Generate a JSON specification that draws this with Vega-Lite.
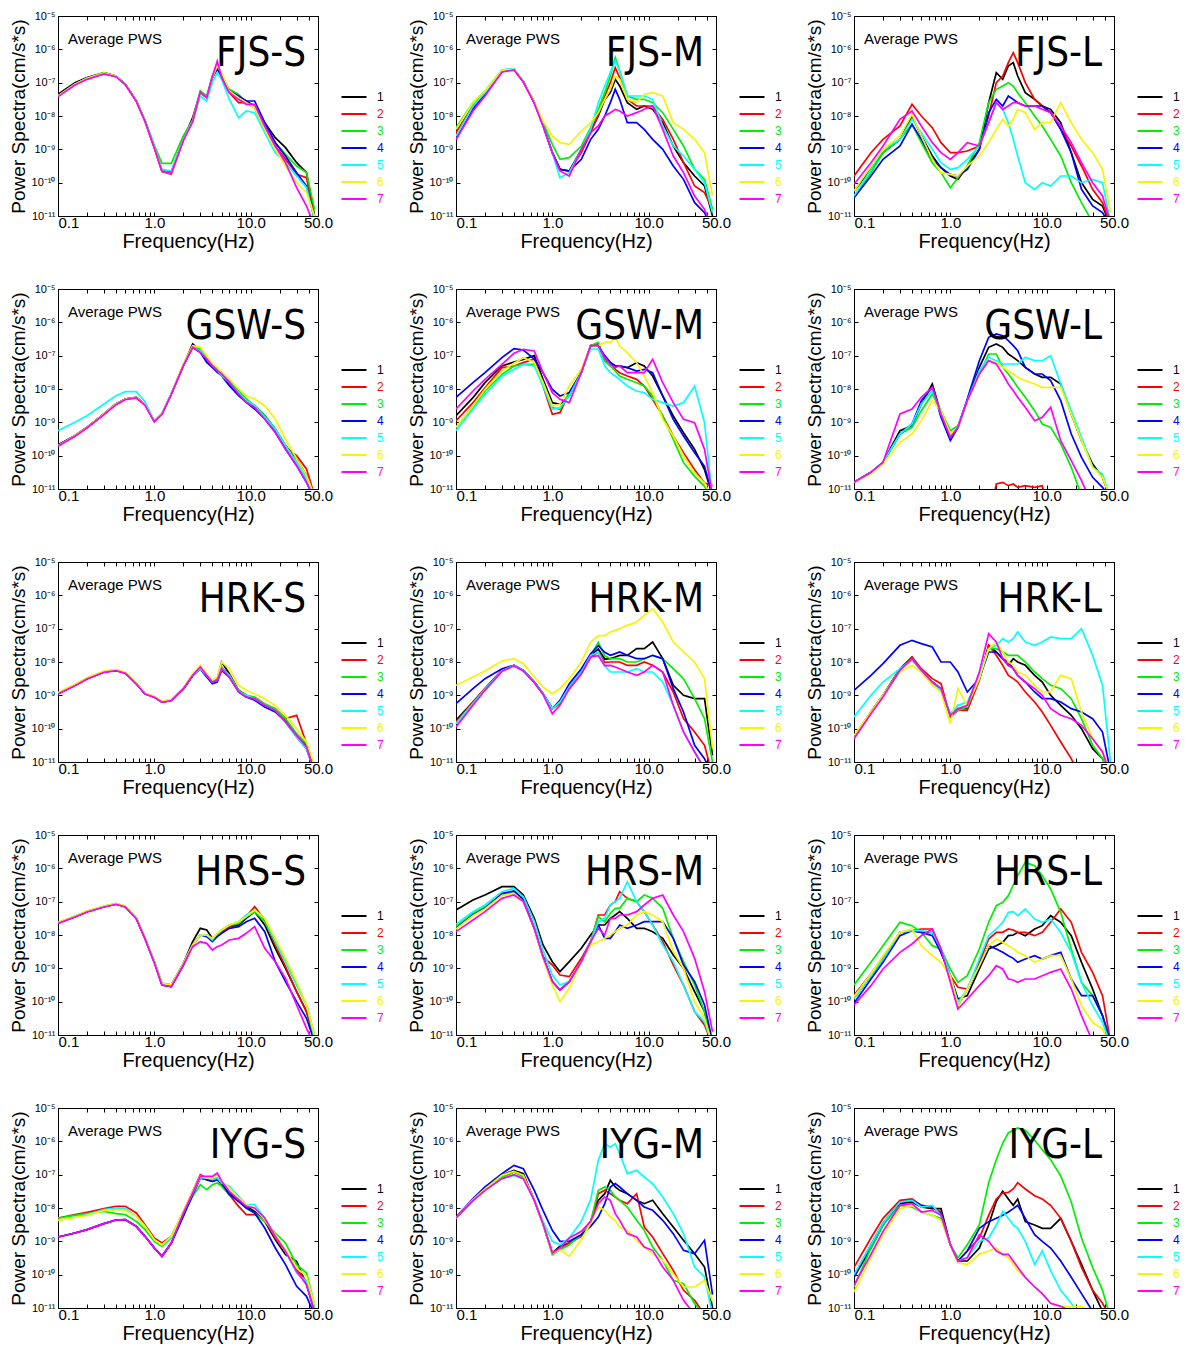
{
"$schema":"https://vega.github.io/schema/vega-lite/v6.json",
"padding":{"left":8,"top":9,"right":0,"bottom":0},
"data":{"values":[
{"p":"FJS-S","f":0.1,"1":-7.35,"2":-7.4,"3":-7.4,"4":-7.4,"5":-7.4,"6":-7.4,"7":-7.42},
{"p":"FJS-S","f":0.15,"1":-7.0,"2":-7.05,"3":-7.05,"4":-7.05,"5":-7.05,"6":-7.05,"7":-7.07},
{"p":"FJS-S","f":0.2,"1":-6.85,"2":-6.88,"3":-6.87,"4":-6.88,"5":-6.88,"6":-6.87,"7":-6.9},
{"p":"FJS-S","f":0.3,"1":-6.7,"2":-6.72,"3":-6.7,"4":-6.73,"5":-6.73,"6":-6.71,"7":-6.74},
{"p":"FJS-S","f":0.4,"1":-6.8,"2":-6.81,"3":-6.8,"4":-6.81,"5":-6.81,"6":-6.8,"7":-6.82},
{"p":"FJS-S","f":0.5,"1":-7.05,"2":-7.05,"3":-7.04,"4":-7.05,"5":-7.05,"6":-7.05,"7":-7.06},
{"p":"FJS-S","f":0.65,"1":-7.55,"2":-7.55,"3":-7.54,"4":-7.55,"5":-7.55,"6":-7.55,"7":-7.56},
{"p":"FJS-S","f":0.8,"1":-8.15,"2":-8.15,"3":-8.12,"4":-8.15,"5":-8.14,"6":-8.15,"7":-8.16},
{"p":"FJS-S","f":1,"1":-8.95,"2":-8.95,"3":-8.88,"4":-8.95,"5":-8.93,"6":-8.95,"7":-8.96},
{"p":"FJS-S","f":1.2,"1":-9.65,"2":-9.67,"3":-9.42,"4":-9.63,"5":-9.6,"6":-9.65,"7":-9.66},
{"p":"FJS-S","f":1.5,"1":-9.7,"2":-9.75,"3":-9.42,"4":-9.68,"5":-9.65,"6":-9.72,"7":-9.72},
{"p":"FJS-S","f":2,"1":-8.7,"2":-8.72,"3":-8.6,"4":-8.7,"5":-8.7,"6":-8.72,"7":-8.74},
{"p":"FJS-S","f":2.5,"1":-8.05,"2":-8.15,"3":-8.12,"4":-8.15,"5":-8.15,"6":-8.15,"7":-8.17},
{"p":"FJS-S","f":3,"1":-7.3,"2":-7.3,"3":-7.25,"4":-7.3,"5":-7.4,"6":-7.3,"7":-7.28},
{"p":"FJS-S","f":3.5,"1":-7.45,"2":-7.45,"3":-7.4,"4":-7.45,"5":-7.55,"6":-7.45,"7":-7.45},
{"p":"FJS-S","f":4,"1":-6.85,"2":-6.85,"3":-6.8,"4":-6.85,"5":-7.0,"6":-6.85,"7":-6.82},
{"p":"FJS-S","f":4.5,"1":-6.5,"2":-6.5,"3":-6.45,"4":-6.6,"5":-6.7,"6":-6.5,"7":-6.35},
{"p":"FJS-S","f":5,"1":-6.75,"2":-6.85,"3":-6.85,"4":-6.8,"5":-6.9,"6":-6.7,"7":-6.85},
{"p":"FJS-S","f":6,"1":-7.25,"2":-7.3,"3":-7.2,"4":-7.25,"5":-7.5,"6":-7.25,"7":-7.3},
{"p":"FJS-S","f":7.5,"1":-7.42,"2":-7.6,"3":-7.35,"4":-7.4,"5":-8.05,"6":-7.45,"7":-7.5},
{"p":"FJS-S","f":9,"1":-7.55,"2":-7.6,"3":-7.6,"4":-7.55,"5":-7.85,"6":-7.6,"7":-7.65},
{"p":"FJS-S","f":11,"1":-7.7,"2":-7.75,"3":-7.7,"4":-7.55,"5":-7.9,"6":-7.75,"7":-7.65},
{"p":"FJS-S","f":14,"1":-8.2,"2":-8.4,"3":-8.3,"4":-8.2,"5":-8.5,"6":-8.4,"7":-8.3},
{"p":"FJS-S","f":18,"1":-8.65,"2":-8.9,"3":-8.8,"4":-8.8,"5":-9.1,"6":-9.0,"7":-8.9},
{"p":"FJS-S","f":23,"1":-8.95,"2":-9.3,"3":-9.15,"4":-9.2,"5":-9.4,"6":-9.5,"7":-9.4},
{"p":"FJS-S","f":30,"1":-9.4,"2":-9.75,"3":-9.5,"4":-9.7,"5":-9.8,"6":-10.0,"7":-10.15},
{"p":"FJS-S","f":38,"1":-9.7,"2":-9.85,"3":-9.7,"4":-10.1,"5":-10.15,"6":-10.3,"7":-10.7},
{"p":"FJS-S","f":46,"1":-11.0,"2":-11.1,"3":-10.8,"4":-11.1,"5":-11.1,"6":-11.0,"7":-11.3},
{"p":"FJS-M","f":0.1,"1":-8.5,"2":-8.5,"3":-8.35,"4":-8.7,"5":-8.6,"6":-8.4,"7":-8.7},
{"p":"FJS-M","f":0.15,"1":-7.7,"2":-7.7,"3":-7.6,"4":-7.8,"5":-7.7,"6":-7.6,"7":-7.85},
{"p":"FJS-M","f":0.2,"1":-7.3,"2":-7.3,"3":-7.25,"4":-7.35,"5":-7.3,"6":-7.25,"7":-7.4},
{"p":"FJS-M","f":0.3,"1":-6.65,"2":-6.65,"3":-6.62,"4":-6.67,"5":-6.62,"6":-6.63,"7":-6.68},
{"p":"FJS-M","f":0.4,"1":-6.6,"2":-6.6,"3":-6.58,"4":-6.6,"5":-6.58,"6":-6.6,"7":-6.62},
{"p":"FJS-M","f":0.5,"1":-6.97,"2":-6.97,"3":-6.96,"4":-6.97,"5":-6.96,"6":-6.97,"7":-6.98},
{"p":"FJS-M","f":0.65,"1":-7.6,"2":-7.6,"3":-7.58,"4":-7.6,"5":-7.6,"6":-7.58,"7":-7.62},
{"p":"FJS-M","f":0.8,"1":-8.27,"2":-8.27,"3":-8.2,"4":-8.27,"5":-8.27,"6":-8.15,"7":-8.3},
{"p":"FJS-M","f":1,"1":-9.1,"2":-9.1,"3":-8.85,"4":-9.1,"5":-9.1,"6":-8.6,"7":-9.1},
{"p":"FJS-M","f":1.2,"1":-9.6,"2":-9.6,"3":-9.3,"4":-9.6,"5":-9.85,"6":-8.8,"7":-9.65},
{"p":"FJS-M","f":1.5,"1":-9.65,"2":-9.65,"3":-9.25,"4":-9.65,"5":-9.7,"6":-8.85,"7":-9.8},
{"p":"FJS-M","f":2,"1":-9.0,"2":-9.1,"3":-8.9,"4":-9.3,"5":-9.0,"6":-8.45,"7":-9.0},
{"p":"FJS-M","f":2.5,"1":-8.45,"2":-8.5,"3":-8.35,"4":-8.7,"5":-8.4,"6":-8.2,"7":-8.5},
{"p":"FJS-M","f":3,"1":-8.0,"2":-7.95,"3":-7.8,"4":-8.4,"5":-7.6,"6":-7.9,"7":-8.3},
{"p":"FJS-M","f":3.5,"1":-7.5,"2":-7.4,"3":-7.3,"4":-8.0,"5":-7.1,"6":-7.5,"7":-8.0},
{"p":"FJS-M","f":4,"1":-7.3,"2":-7.0,"3":-6.8,"4":-7.6,"5":-6.7,"6":-7.2,"7":-7.9},
{"p":"FJS-M","f":4.5,"1":-6.9,"2":-6.55,"3":-6.25,"4":-7.2,"5":-6.35,"6":-6.8,"7":-7.8},
{"p":"FJS-M","f":5,"1":-7.1,"2":-6.85,"3":-6.65,"4":-7.5,"5":-6.65,"6":-6.9,"7":-7.85},
{"p":"FJS-M","f":6,"1":-7.6,"2":-7.5,"3":-7.4,"4":-8.2,"5":-7.4,"6":-7.5,"7":-8.0},
{"p":"FJS-M","f":7.5,"1":-7.8,"2":-7.7,"3":-7.5,"4":-8.2,"5":-7.4,"6":-7.6,"7":-7.9},
{"p":"FJS-M","f":9,"1":-7.7,"2":-7.7,"3":-7.5,"4":-8.4,"5":-7.4,"6":-7.35,"7":-7.8},
{"p":"FJS-M","f":11,"1":-7.8,"2":-7.7,"3":-7.6,"4":-8.7,"5":-7.5,"6":-7.3,"7":-7.7},
{"p":"FJS-M","f":14,"1":-8.2,"2":-8.1,"3":-7.9,"4":-9.0,"5":-8.3,"6":-7.4,"7":-8.4},
{"p":"FJS-M","f":18,"1":-8.9,"2":-8.7,"3":-8.4,"4":-9.5,"5":-8.9,"6":-8.2,"7":-9.2},
{"p":"FJS-M","f":23,"1":-9.4,"2":-9.4,"3":-8.9,"4":-9.9,"5":-9.2,"6":-8.4,"7":-9.7},
{"p":"FJS-M","f":30,"1":-9.8,"2":-10.1,"3":-9.6,"4":-10.6,"5":-9.6,"6":-8.7,"7":-10.4},
{"p":"FJS-M","f":38,"1":-10.1,"2":-10.3,"3":-9.9,"4":-10.9,"5":-10.0,"6":-9.1,"7":-10.8},
{"p":"FJS-M","f":46,"1":-11.0,"2":-10.8,"3":-10.8,"4":-11.4,"5":-10.9,"6":-10.4,"7":-11.4},
{"p":"FJS-L","f":0.1,"1":-10.25,"2":-9.8,"3":-10.45,"4":-10.45,"5":-10.4,"6":-10.25,"7":-10.05},
{"p":"FJS-L","f":0.15,"1":-9.6,"2":-9.1,"3":-9.7,"4":-9.8,"5":-9.6,"6":-9.5,"7":-9.4},
{"p":"FJS-L","f":0.2,"1":-9.1,"2":-8.7,"3":-9.1,"4":-9.3,"5":-9.0,"6":-9.0,"7":-8.9},
{"p":"FJS-L","f":0.3,"1":-8.7,"2":-8.3,"3":-8.7,"4":-8.9,"5":-8.7,"6":-8.6,"7":-8.1},
{"p":"FJS-L","f":0.4,"1":-8.0,"2":-7.65,"3":-8.25,"4":-8.25,"5":-8.1,"6":-7.95,"7":-7.85},
{"p":"FJS-L","f":0.5,"1":-8.6,"2":-8.0,"3":-8.8,"4":-8.7,"5":-8.5,"6":-8.6,"7":-8.3},
{"p":"FJS-L","f":0.65,"1":-9.2,"2":-8.35,"3":-9.4,"4":-9.3,"5":-9.0,"6":-9.3,"7":-8.8},
{"p":"FJS-L","f":0.8,"1":-9.55,"2":-8.8,"3":-9.7,"4":-9.55,"5":-9.4,"6":-9.7,"7":-9.1},
{"p":"FJS-L","f":1,"1":-9.8,"2":-9.1,"3":-10.15,"4":-9.75,"5":-9.6,"6":-9.75,"7":-9.3},
{"p":"FJS-L","f":1.2,"1":-9.9,"2":-9.1,"3":-9.85,"4":-9.8,"5":-9.55,"6":-9.8,"7":-9.1},
{"p":"FJS-L","f":1.5,"1":-9.5,"2":-9.05,"3":-9.5,"4":-9.6,"5":-9.3,"6":-9.5,"7":-8.8},
{"p":"FJS-L","f":2,"1":-9.0,"2":-8.9,"3":-8.8,"4":-9.0,"5":-8.9,"6":-9.2,"7":-8.9},
{"p":"FJS-L","f":2.5,"1":-7.6,"2":-8.0,"3":-7.6,"4":-7.9,"5":-8.2,"6":-8.8,"7":-8.2},
{"p":"FJS-L","f":3,"1":-6.7,"2":-7.0,"3":-7.2,"4":-7.5,"5":-7.6,"6":-8.4,"7":-7.6},
{"p":"FJS-L","f":3.5,"1":-6.9,"2":-6.8,"3":-7.1,"4":-7.7,"5":-7.8,"6":-8.1,"7":-7.8},
{"p":"FJS-L","f":4,"1":-6.5,"2":-6.4,"3":-7.0,"4":-7.4,"5":-8.2,"6":-8.3,"7":-7.7},
{"p":"FJS-L","f":4.5,"1":-6.4,"2":-6.1,"3":-7.1,"4":-7.5,"5":-8.7,"6":-8.1,"7":-7.6},
{"p":"FJS-L","f":5,"1":-6.8,"2":-6.4,"3":-7.3,"4":-7.6,"5":-9.2,"6":-7.8,"7":-7.6},
{"p":"FJS-L","f":6,"1":-7.3,"2":-7.0,"3":-7.6,"4":-7.7,"5":-10.0,"6":-7.9,"7":-7.7},
{"p":"FJS-L","f":7.5,"1":-7.5,"2":-7.5,"3":-8.0,"4":-7.7,"5":-10.2,"6":-8.4,"7":-7.7},
{"p":"FJS-L","f":9,"1":-7.7,"2":-7.7,"3":-8.3,"4":-7.7,"5":-10.0,"6":-8.2,"7":-7.8},
{"p":"FJS-L","f":11,"1":-7.8,"2":-7.9,"3":-8.7,"4":-7.9,"5":-10.1,"6":-8.2,"7":-7.9},
{"p":"FJS-L","f":14,"1":-8.2,"2":-8.4,"3":-9.2,"4":-8.4,"5":-9.8,"6":-7.6,"7":-8.3},
{"p":"FJS-L","f":18,"1":-9.1,"2":-8.9,"3":-10.0,"4":-9.1,"5":-9.8,"6":-8.2,"7":-8.8},
{"p":"FJS-L","f":23,"1":-10.0,"2":-9.5,"3":-10.6,"4":-10.2,"5":-10.0,"6":-8.7,"7":-9.4},
{"p":"FJS-L","f":30,"1":-10.5,"2":-10.2,"3":-11.2,"4":-10.7,"5":-9.9,"6":-9.1,"7":-10.0},
{"p":"FJS-L","f":38,"1":-10.7,"2":-10.6,"3":-11.6,"4":-10.9,"5":-10.0,"6":-9.6,"7":-10.4},
{"p":"FJS-L","f":46,"1":-11.3,"2":-11.3,"3":-11.8,"4":-11.3,"5":-11.2,"6":-10.9,"7":-11.2},
{"p":"GSW-S","f":0.1,"1":-9.68,"2":-9.7,"3":-9.7,"4":-9.68,"5":-9.25,"6":-9.7,"7":-9.72},
{"p":"GSW-S","f":0.15,"1":-9.4,"2":-9.4,"3":-9.4,"4":-9.4,"5":-9.0,"6":-9.4,"7":-9.42},
{"p":"GSW-S","f":0.2,"1":-9.15,"2":-9.15,"3":-9.15,"4":-9.15,"5":-8.8,"6":-9.15,"7":-9.17},
{"p":"GSW-S","f":0.3,"1":-8.75,"2":-8.75,"3":-8.75,"4":-8.75,"5":-8.45,"6":-8.75,"7":-8.77},
{"p":"GSW-S","f":0.4,"1":-8.45,"2":-8.45,"3":-8.45,"4":-8.45,"5":-8.2,"6":-8.45,"7":-8.47},
{"p":"GSW-S","f":0.5,"1":-8.3,"2":-8.3,"3":-8.3,"4":-8.3,"5":-8.08,"6":-8.3,"7":-8.32},
{"p":"GSW-S","f":0.65,"1":-8.25,"2":-8.25,"3":-8.25,"4":-8.25,"5":-8.08,"6":-8.25,"7":-8.27},
{"p":"GSW-S","f":0.8,"1":-8.47,"2":-8.47,"3":-8.47,"4":-8.47,"5":-8.38,"6":-8.47,"7":-8.49},
{"p":"GSW-S","f":1,"1":-8.97,"2":-8.97,"3":-8.97,"4":-8.97,"5":-8.95,"6":-8.97,"7":-8.98},
{"p":"GSW-S","f":1.2,"1":-8.75,"2":-8.75,"3":-8.75,"4":-8.75,"5":-8.72,"6":-8.75,"7":-8.76},
{"p":"GSW-S","f":1.5,"1":-8.15,"2":-8.15,"3":-8.15,"4":-8.15,"5":-8.13,"6":-8.15,"7":-8.16},
{"p":"GSW-S","f":2,"1":-7.3,"2":-7.3,"3":-7.3,"4":-7.3,"5":-7.3,"6":-7.25,"7":-7.3},
{"p":"GSW-S","f":2.5,"1":-6.65,"2":-6.75,"3":-6.72,"4":-6.75,"5":-6.75,"6":-6.7,"7":-6.75},
{"p":"GSW-S","f":3,"1":-6.85,"2":-6.9,"3":-6.8,"4":-6.9,"5":-6.85,"6":-6.75,"7":-6.9},
{"p":"GSW-S","f":3.5,"1":-7.1,"2":-7.15,"3":-7.05,"4":-7.2,"5":-7.1,"6":-7.0,"7":-7.1},
{"p":"GSW-S","f":4,"1":-7.3,"2":-7.35,"3":-7.25,"4":-7.35,"5":-7.3,"6":-7.25,"7":-7.3},
{"p":"GSW-S","f":4.5,"1":-7.45,"2":-7.4,"3":-7.4,"4":-7.5,"5":-7.45,"6":-7.35,"7":-7.45},
{"p":"GSW-S","f":5,"1":-7.55,"2":-7.6,"3":-7.5,"4":-7.6,"5":-7.6,"6":-7.5,"7":-7.55},
{"p":"GSW-S","f":6,"1":-7.8,"2":-7.85,"3":-7.75,"4":-7.9,"5":-7.8,"6":-7.7,"7":-7.8},
{"p":"GSW-S","f":7.5,"1":-8.1,"2":-8.15,"3":-8.05,"4":-8.2,"5":-8.1,"6":-8.0,"7":-8.15},
{"p":"GSW-S","f":9,"1":-8.35,"2":-8.4,"3":-8.3,"4":-8.4,"5":-8.35,"6":-8.2,"7":-8.4},
{"p":"GSW-S","f":11,"1":-8.5,"2":-8.55,"3":-8.5,"4":-8.6,"5":-8.5,"6":-8.3,"7":-8.55},
{"p":"GSW-S","f":14,"1":-8.8,"2":-8.85,"3":-8.8,"4":-8.9,"5":-8.85,"6":-8.5,"7":-8.9},
{"p":"GSW-S","f":18,"1":-9.2,"2":-9.25,"3":-9.2,"4":-9.3,"5":-9.2,"6":-8.9,"7":-9.3},
{"p":"GSW-S","f":23,"1":-9.7,"2":-9.75,"3":-9.7,"4":-9.8,"5":-9.7,"6":-9.5,"7":-9.8},
{"p":"GSW-S","f":30,"1":-10.1,"2":-10.0,"3":-10.2,"4":-10.3,"5":-10.2,"6":-10.1,"7":-10.3},
{"p":"GSW-S","f":38,"1":-10.6,"2":-10.4,"3":-10.7,"4":-10.8,"5":-10.7,"6":-10.6,"7":-10.8},
{"p":"GSW-S","f":46,"1":-11.2,"2":-11.2,"3":-11.3,"4":-11.3,"5":-11.3,"6":-11.2,"7":-11.3},
{"p":"GSW-M","f":0.1,"1":-8.8,"2":-8.95,"3":-9.15,"4":-8.25,"5":-9.25,"6":-9.15,"7":-8.6},
{"p":"GSW-M","f":0.15,"1":-8.26,"2":-8.41,"3":-8.56,"4":-7.81,"5":-8.61,"6":-8.51,"7":-8.06},
{"p":"GSW-M","f":0.2,"1":-7.81,"2":-7.96,"3":-8.06,"4":-7.51,"5":-8.16,"6":-8.01,"7":-7.71},
{"p":"GSW-M","f":0.3,"1":-7.31,"2":-7.36,"3":-7.56,"4":-7.06,"5":-7.61,"6":-7.46,"7":-7.26},
{"p":"GSW-M","f":0.4,"1":-7.19,"2":-7.31,"3":-7.31,"4":-6.79,"5":-7.41,"6":-7.23,"7":-6.93},
{"p":"GSW-M","f":0.5,"1":-7.11,"2":-7.21,"3":-7.26,"4":-6.83,"5":-7.26,"6":-7.06,"7":-6.81},
{"p":"GSW-M","f":0.65,"1":-7.0,"2":-7.1,"3":-7.26,"4":-7.1,"5":-7.31,"6":-7.2,"7":-6.86},
{"p":"GSW-M","f":0.8,"1":-7.71,"2":-7.91,"3":-7.81,"4":-7.51,"5":-7.91,"6":-7.81,"7":-7.51},
{"p":"GSW-M","f":1,"1":-8.41,"2":-8.76,"3":-8.56,"4":-8.01,"5":-8.61,"6":-8.51,"7":-8.11},
{"p":"GSW-M","f":1.2,"1":-8.46,"2":-8.71,"3":-8.61,"4":-8.21,"5":-8.56,"6":-8.46,"7":-8.31},
{"p":"GSW-M","f":1.5,"1":-8.21,"2":-8.11,"3":-8.11,"4":-8.11,"5":-8.21,"6":-7.91,"7":-8.41},
{"p":"GSW-M","f":2,"1":-7.5,"2":-7.5,"3":-7.5,"4":-7.5,"5":-7.5,"6":-7.4,"7":-7.5},
{"p":"GSW-M","f":2.5,"1":-6.7,"2":-6.7,"3":-6.7,"4":-6.7,"5":-6.8,"6":-6.7,"7":-6.7},
{"p":"GSW-M","f":3,"1":-6.65,"2":-6.65,"3":-6.6,"4":-6.7,"5":-6.8,"6":-6.7,"7":-6.7},
{"p":"GSW-M","f":3.5,"1":-7.1,"2":-7.16,"3":-7.16,"4":-7.0,"5":-7.31,"6":-6.6,"7":-7.06},
{"p":"GSW-M","f":4,"1":-7.2,"2":-7.2,"3":-7.31,"4":-7.2,"5":-7.51,"6":-6.6,"7":-7.26},
{"p":"GSW-M","f":4.5,"1":-7.31,"2":-7.41,"3":-7.46,"4":-7.31,"5":-7.61,"6":-6.45,"7":-7.36},
{"p":"GSW-M","f":5,"1":-7.31,"2":-7.51,"3":-7.61,"4":-7.31,"5":-7.71,"6":-6.71,"7":-7.31},
{"p":"GSW-M","f":6,"1":-7.36,"2":-7.61,"3":-7.71,"4":-7.36,"5":-7.91,"6":-6.91,"7":-7.51},
{"p":"GSW-M","f":7.5,"1":-7.21,"2":-7.71,"3":-7.81,"4":-7.46,"5":-8.06,"6":-7.21,"7":-7.51},
{"p":"GSW-M","f":9,"1":-7.31,"2":-7.91,"3":-7.91,"4":-7.41,"5":-8.11,"6":-7.61,"7":-7.51},
{"p":"GSW-M","f":11,"1":-7.61,"2":-8.31,"3":-8.21,"4":-7.51,"5":-8.31,"6":-8.11,"7":-7.11},
{"p":"GSW-M","f":14,"1":-8.21,"2":-8.81,"3":-8.81,"4":-8.21,"5":-8.41,"6":-8.91,"7":-7.81},
{"p":"GSW-M","f":18,"1":-8.81,"2":-9.41,"3":-9.51,"4":-8.91,"5":-8.51,"6":-9.41,"7":-8.41},
{"p":"GSW-M","f":23,"1":-9.31,"2":-9.91,"3":-10.21,"4":-9.41,"5":-8.41,"6":-10.01,"7":-8.91},
{"p":"GSW-M","f":30,"1":-9.81,"2":-10.42,"3":-10.62,"4":-9.91,"5":-7.91,"6":-10.52,"7":-9.01},
{"p":"GSW-M","f":38,"1":-10.42,"2":-10.82,"3":-10.92,"4":-10.32,"5":-9.01,"6":-10.82,"7":-9.81},
{"p":"GSW-M","f":46,"1":-11.2,"2":-10.9,"3":-11.4,"4":-11.2,"5":-11.3,"6":-11.3,"7":-11.2},
{"p":"GSW-L","f":0.1,"1":-10.8,"2":-13,"3":-10.8,"4":-10.8,"5":-10.8,"6":-10.8,"7":-10.8},
{"p":"GSW-L","f":0.15,"1":-10.5,"2":-13,"3":-10.5,"4":-10.5,"5":-10.5,"6":-10.55,"7":-10.5},
{"p":"GSW-L","f":0.2,"1":-10.2,"2":-13,"3":-10.2,"4":-10.2,"5":-10.2,"6":-10.25,"7":-10.2},
{"p":"GSW-L","f":0.3,"1":-9.25,"2":-13,"3":-9.35,"4":-9.35,"5":-9.35,"6":-9.6,"7":-8.75},
{"p":"GSW-L","f":0.4,"1":-9.1,"2":-13,"3":-9.15,"4":-9.05,"5":-9.05,"6":-9.35,"7":-8.6},
{"p":"GSW-L","f":0.5,"1":-8.45,"2":-13,"3":-8.65,"4":-8.35,"5":-8.45,"6":-8.95,"7":-8.25},
{"p":"GSW-L","f":0.65,"1":-7.85,"2":-13,"3":-8.15,"4":-7.95,"5":-8.05,"6":-8.35,"7":-7.95},
{"p":"GSW-L","f":0.8,"1":-8.75,"2":-13,"3":-8.65,"4":-8.85,"5":-8.75,"6":-8.65,"7":-8.75},
{"p":"GSW-L","f":1,"1":-9.45,"2":-13,"3":-9.25,"4":-9.55,"5":-9.4,"6":-9.35,"7":-9.45},
{"p":"GSW-L","f":1.2,"1":-9.15,"2":-13,"3":-9.1,"4":-9.15,"5":-9.15,"6":-9.15,"7":-9.15},
{"p":"GSW-L","f":1.5,"1":-8.35,"2":-13,"3":-8.35,"4":-8.3,"5":-8.35,"6":-8.4,"7":-8.35},
{"p":"GSW-L","f":2,"1":-7.35,"2":-13,"3":-7.55,"4":-7.15,"5":-7.45,"6":-7.55,"7":-7.55},
{"p":"GSW-L","f":2.5,"1":-6.75,"2":-12,"3":-6.95,"4":-6.45,"5":-7.05,"6":-7.15,"7":-7.15},
{"p":"GSW-L","f":3,"1":-6.65,"2":-10.85,"3":-6.95,"4":-6.35,"5":-7.15,"6":-7.2,"7":-7.25},
{"p":"GSW-L","f":3.5,"1":-6.75,"2":-10.8,"3":-7.35,"4":-6.4,"5":-7.25,"6":-7.35,"7":-7.55},
{"p":"GSW-L","f":4,"1":-6.95,"2":-10.9,"3":-7.55,"4":-6.55,"5":-7.25,"6":-7.45,"7":-7.85},
{"p":"GSW-L","f":4.5,"1":-7.05,"2":-10.85,"3":-7.75,"4":-6.7,"5":-7.25,"6":-7.55,"7":-8.05},
{"p":"GSW-L","f":5,"1":-7.15,"2":-10.95,"3":-7.95,"4":-6.85,"5":-7.25,"6":-7.65,"7":-8.25},
{"p":"GSW-L","f":6,"1":-7.35,"2":-10.9,"3":-8.25,"4":-7.35,"5":-7.05,"6":-7.75,"7":-8.55},
{"p":"GSW-L","f":7.5,"1":-7.55,"2":-10.95,"3":-8.65,"4":-7.55,"5":-7.15,"6":-7.85,"7":-8.95},
{"p":"GSW-L","f":9,"1":-7.65,"2":-10.9,"3":-9.05,"4":-7.55,"5":-7.15,"6":-7.95,"7":-8.85},
{"p":"GSW-L","f":11,"1":-7.65,"2":-12,"3":-9.15,"4":-7.75,"5":-7.0,"6":-7.95,"7":-8.55},
{"p":"GSW-L","f":14,"1":-7.85,"2":-13,"3":-9.65,"4":-8.35,"5":-7.85,"6":-7.95,"7":-9.55},
{"p":"GSW-L","f":18,"1":-8.75,"2":-13,"3":-10.35,"4":-9.35,"5":-8.65,"6":-8.75,"7":-10.15},
{"p":"GSW-L","f":23,"1":-9.55,"2":-13,"3":-11.2,"4":-10.05,"5":-9.45,"6":-9.55,"7":-10.75},
{"p":"GSW-L","f":30,"1":-10.25,"2":-13,"3":-11.8,"4":-10.65,"5":-10.35,"6":-10.35,"7":-11.5},
{"p":"GSW-L","f":38,"1":-10.65,"2":-13,"3":-12,"4":-10.95,"5":-10.55,"6":-10.65,"7":-12},
{"p":"GSW-L","f":46,"1":-11.3,"2":-13,"3":-12,"4":-11.3,"5":-11.3,"6":-11.3,"7":-12},
{"p":"HRK-S","f":0.1,"1":-8.95,"2":-8.95,"3":-8.93,"4":-8.95,"5":-8.94,"6":-8.92,"7":-8.96},
{"p":"HRK-S","f":0.15,"1":-8.7,"2":-8.7,"3":-8.68,"4":-8.7,"5":-8.69,"6":-8.67,"7":-8.71},
{"p":"HRK-S","f":0.2,"1":-8.5,"2":-8.5,"3":-8.48,"4":-8.5,"5":-8.49,"6":-8.47,"7":-8.51},
{"p":"HRK-S","f":0.3,"1":-8.3,"2":-8.3,"3":-8.29,"4":-8.3,"5":-8.29,"6":-8.27,"7":-8.31},
{"p":"HRK-S","f":0.4,"1":-8.25,"2":-8.25,"3":-8.24,"4":-8.25,"5":-8.24,"6":-8.22,"7":-8.26},
{"p":"HRK-S","f":0.5,"1":-8.33,"2":-8.33,"3":-8.32,"4":-8.33,"5":-8.32,"6":-8.31,"7":-8.34},
{"p":"HRK-S","f":0.65,"1":-8.65,"2":-8.65,"3":-8.64,"4":-8.65,"5":-8.65,"6":-8.63,"7":-8.66},
{"p":"HRK-S","f":0.8,"1":-8.95,"2":-8.95,"3":-8.94,"4":-8.95,"5":-8.95,"6":-8.93,"7":-8.96},
{"p":"HRK-S","f":1,"1":-9.05,"2":-9.05,"3":-9.04,"4":-9.05,"5":-9.05,"6":-9.03,"7":-9.06},
{"p":"HRK-S","f":1.2,"1":-9.2,"2":-9.2,"3":-9.19,"4":-9.2,"5":-9.2,"6":-9.18,"7":-9.21},
{"p":"HRK-S","f":1.5,"1":-9.15,"2":-9.15,"3":-9.14,"4":-9.15,"5":-9.15,"6":-9.13,"7":-9.16},
{"p":"HRK-S","f":2,"1":-8.8,"2":-8.8,"3":-8.8,"4":-8.82,"5":-8.8,"6":-8.78,"7":-8.8},
{"p":"HRK-S","f":2.5,"1":-8.4,"2":-8.4,"3":-8.38,"4":-8.42,"5":-8.4,"6":-8.35,"7":-8.4},
{"p":"HRK-S","f":3,"1":-8.15,"2":-8.2,"3":-8.15,"4":-8.2,"5":-8.2,"6":-8.1,"7":-8.15},
{"p":"HRK-S","f":3.5,"1":-8.4,"2":-8.45,"3":-8.4,"4":-8.45,"5":-8.4,"6":-8.35,"7":-8.4},
{"p":"HRK-S","f":4,"1":-8.6,"2":-8.6,"3":-8.55,"4":-8.65,"5":-8.6,"6":-8.55,"7":-8.6},
{"p":"HRK-S","f":4.5,"1":-8.5,"2":-8.55,"3":-8.5,"4":-8.6,"5":-8.55,"6":-8.45,"7":-8.55},
{"p":"HRK-S","f":5,"1":-8.0,"2":-8.2,"3":-8.15,"4":-8.25,"5":-8.2,"6":-8.0,"7":-8.2},
{"p":"HRK-S","f":6,"1":-8.35,"2":-8.4,"3":-8.4,"4":-8.45,"5":-8.4,"6":-8.2,"7":-8.45},
{"p":"HRK-S","f":7.5,"1":-8.85,"2":-8.9,"3":-8.85,"4":-8.9,"5":-8.9,"6":-8.7,"7":-8.9},
{"p":"HRK-S","f":9,"1":-9.0,"2":-9.05,"3":-9.0,"4":-9.05,"5":-9.0,"6":-8.85,"7":-9.05},
{"p":"HRK-S","f":11,"1":-9.1,"2":-9.1,"3":-9.05,"4":-9.15,"5":-9.1,"6":-8.95,"7":-9.1},
{"p":"HRK-S","f":14,"1":-9.3,"2":-9.3,"3":-9.25,"4":-9.35,"5":-9.3,"6":-9.1,"7":-9.3},
{"p":"HRK-S","f":18,"1":-9.45,"2":-9.4,"3":-9.4,"4":-9.5,"5":-9.45,"6":-9.3,"7":-9.45},
{"p":"HRK-S","f":23,"1":-9.75,"2":-9.7,"3":-9.7,"4":-9.8,"5":-9.8,"6":-9.6,"7":-9.8},
{"p":"HRK-S","f":30,"1":-10.2,"2":-9.6,"3":-10.15,"4":-10.25,"5":-10.25,"6":-10.0,"7":-10.2},
{"p":"HRK-S","f":38,"1":-10.5,"2":-10.45,"3":-10.45,"4":-10.6,"5":-10.6,"6":-10.4,"7":-10.55},
{"p":"HRK-S","f":46,"1":-11.2,"2":-11.2,"3":-11.2,"4":-11.3,"5":-11.3,"6":-11.1,"7":-11.3},
{"p":"HRK-M","f":0.1,"1":-9.75,"2":-9.8,"3":-9.85,"4":-9.25,"5":-9.85,"6":-8.7,"7":-9.95},
{"p":"HRK-M","f":0.15,"1":-9.2,"2":-9.2,"3":-9.25,"4":-8.8,"5":-9.25,"6":-8.45,"7":-9.3},
{"p":"HRK-M","f":0.2,"1":-8.8,"2":-8.8,"3":-8.82,"4":-8.5,"5":-8.82,"6":-8.27,"7":-8.85},
{"p":"HRK-M","f":0.3,"1":-8.25,"2":-8.25,"3":-8.27,"4":-8.2,"5":-8.27,"6":-7.97,"7":-8.28},
{"p":"HRK-M","f":0.4,"1":-8.1,"2":-8.1,"3":-8.1,"4":-8.1,"5":-8.1,"6":-7.9,"7":-8.12},
{"p":"HRK-M","f":0.5,"1":-8.25,"2":-8.25,"3":-8.25,"4":-8.25,"5":-8.25,"6":-8.05,"7":-8.27},
{"p":"HRK-M","f":0.65,"1":-8.6,"2":-8.6,"3":-8.6,"4":-8.6,"5":-8.6,"6":-8.45,"7":-8.62},
{"p":"HRK-M","f":0.8,"1":-8.95,"2":-8.95,"3":-8.95,"4":-8.95,"5":-8.95,"6":-8.75,"7":-8.97},
{"p":"HRK-M","f":1,"1":-9.4,"2":-9.4,"3":-9.4,"4":-9.4,"5":-9.4,"6":-8.95,"7":-9.55},
{"p":"HRK-M","f":1.2,"1":-9.2,"2":-9.25,"3":-9.2,"4":-9.15,"5":-9.2,"6":-8.8,"7":-9.3},
{"p":"HRK-M","f":1.5,"1":-8.75,"2":-8.8,"3":-8.75,"4":-8.65,"5":-8.75,"6":-8.5,"7":-8.8},
{"p":"HRK-M","f":2,"1":-8.3,"2":-8.35,"3":-8.3,"4":-8.2,"5":-8.3,"6":-8.0,"7":-8.35},
{"p":"HRK-M","f":2.5,"1":-7.8,"2":-7.85,"3":-7.8,"4":-7.75,"5":-7.8,"6":-7.4,"7":-7.85},
{"p":"HRK-M","f":3,"1":-7.61,"2":-7.71,"3":-7.41,"4":-7.51,"5":-7.71,"6":-7.21,"7":-7.81},
{"p":"HRK-M","f":3.5,"1":-7.91,"2":-8.01,"3":-7.81,"4":-7.71,"5":-8.11,"6":-7.21,"7":-8.11},
{"p":"HRK-M","f":4,"1":-7.9,"2":-8.0,"3":-7.9,"4":-7.8,"5":-8.3,"6":-7.1,"7":-8.1},
{"p":"HRK-M","f":4.5,"1":-7.85,"2":-8.0,"3":-7.9,"4":-7.75,"5":-8.3,"6":-7.05,"7":-8.15},
{"p":"HRK-M","f":5,"1":-7.8,"2":-8.0,"3":-7.9,"4":-7.7,"5":-8.3,"6":-7.0,"7":-8.2},
{"p":"HRK-M","f":6,"1":-7.8,"2":-8.1,"3":-8.0,"4":-7.8,"5":-8.3,"6":-6.9,"7":-8.3},
{"p":"HRK-M","f":7.5,"1":-7.6,"2":-8.1,"3":-8.0,"4":-7.9,"5":-8.2,"6":-6.8,"7":-8.4},
{"p":"HRK-M","f":9,"1":-7.6,"2":-8.0,"3":-7.9,"4":-7.9,"5":-8.3,"6":-6.6,"7":-8.3},
{"p":"HRK-M","f":11,"1":-7.4,"2":-8.1,"3":-7.8,"4":-7.8,"5":-8.3,"6":-6.4,"7":-8.1},
{"p":"HRK-M","f":14,"1":-7.9,"2":-8.3,"3":-7.9,"4":-7.9,"5":-8.6,"6":-6.8,"7":-8.3},
{"p":"HRK-M","f":18,"1":-8.7,"2":-8.9,"3":-8.2,"4":-8.8,"5":-9.3,"6":-7.4,"7":-9.3},
{"p":"HRK-M","f":23,"1":-9.0,"2":-9.7,"3":-8.5,"4":-9.5,"5":-10.1,"6":-7.7,"7":-10.1},
{"p":"HRK-M","f":30,"1":-9.1,"2":-10.1,"3":-9.1,"4":-10.5,"5":-10.7,"6":-8.0,"7":-10.7},
{"p":"HRK-M","f":38,"1":-9.1,"2":-10.5,"3":-9.7,"4":-10.9,"5":-11.2,"6":-8.5,"7":-11.2},
{"p":"HRK-M","f":46,"1":-10.8,"2":-11.4,"3":-11.0,"4":-11.4,"5":-11.4,"6":-10.6,"7":-11.4},
{"p":"HRK-L","f":0.1,"1":-10.25,"2":-10.25,"3":-10.25,"4":-8.85,"5":-9.65,"6":-10.2,"7":-10.3},
{"p":"HRK-L","f":0.15,"1":-9.5,"2":-9.5,"3":-9.5,"4":-8.4,"5":-9.0,"6":-9.5,"7":-9.55},
{"p":"HRK-L","f":0.2,"1":-9.0,"2":-9.0,"3":-9.0,"4":-8.05,"5":-8.6,"6":-9.0,"7":-9.05},
{"p":"HRK-L","f":0.3,"1":-8.2,"2":-8.2,"3":-8.22,"4":-7.5,"5":-8.2,"6":-8.3,"7":-8.25},
{"p":"HRK-L","f":0.4,"1":-7.85,"2":-7.85,"3":-7.9,"4":-7.35,"5":-7.95,"6":-8.1,"7":-7.9},
{"p":"HRK-L","f":0.5,"1":-8.25,"2":-8.2,"3":-8.25,"4":-7.45,"5":-8.25,"6":-8.3,"7":-8.25},
{"p":"HRK-L","f":0.65,"1":-8.6,"2":-8.5,"3":-8.6,"4":-7.55,"5":-8.65,"6":-8.7,"7":-8.6},
{"p":"HRK-L","f":0.8,"1":-8.8,"2":-8.65,"3":-8.8,"4":-8.0,"5":-8.85,"6":-8.9,"7":-8.8},
{"p":"HRK-L","f":1,"1":-9.6,"2":-9.65,"3":-9.6,"4":-8.0,"5":-9.55,"6":-9.85,"7":-9.6},
{"p":"HRK-L","f":1.2,"1":-9.4,"2":-9.45,"3":-9.45,"4":-8.3,"5":-9.3,"6":-8.8,"7":-9.4},
{"p":"HRK-L","f":1.5,"1":-9.4,"2":-9.45,"3":-9.35,"4":-8.9,"5":-9.2,"6":-9.3,"7":-9.3},
{"p":"HRK-L","f":2,"1":-8.5,"2":-8.55,"3":-8.45,"4":-8.5,"5":-8.4,"6":-8.5,"7":-8.3},
{"p":"HRK-L","f":2.5,"1":-7.5,"2":-7.5,"3":-7.6,"4":-7.7,"5":-7.6,"6":-7.6,"7":-7.15},
{"p":"HRK-L","f":3,"1":-7.7,"2":-7.8,"3":-7.6,"4":-7.7,"5":-7.5,"6":-7.4,"7":-7.4},
{"p":"HRK-L","f":3.5,"1":-7.9,"2":-8.1,"3":-7.7,"4":-7.9,"5":-7.3,"6":-7.7,"7":-7.9},
{"p":"HRK-L","f":4,"1":-8.1,"2":-8.4,"3":-7.8,"4":-8.0,"5":-7.4,"6":-8.0,"7":-8.1},
{"p":"HRK-L","f":4.5,"1":-7.9,"2":-8.5,"3":-7.8,"4":-8.2,"5":-7.3,"6":-8.1,"7":-8.2},
{"p":"HRK-L","f":5,"1":-8.0,"2":-8.6,"3":-7.8,"4":-8.4,"5":-7.1,"6":-8.3,"7":-8.4},
{"p":"HRK-L","f":6,"1":-8.1,"2":-8.9,"3":-8.0,"4":-8.6,"5":-7.4,"6":-8.4,"7":-8.6},
{"p":"HRK-L","f":7.5,"1":-8.4,"2":-9.2,"3":-8.3,"4":-8.9,"5":-7.5,"6":-8.7,"7":-8.8},
{"p":"HRK-L","f":9,"1":-8.6,"2":-9.5,"3":-8.5,"4":-9.1,"5":-7.4,"6":-8.9,"7":-9.0},
{"p":"HRK-L","f":11,"1":-9.0,"2":-9.9,"3":-8.7,"4":-9.1,"5":-7.25,"6":-8.9,"7":-9.4},
{"p":"HRK-L","f":14,"1":-9.3,"2":-10.4,"3":-8.8,"4":-9.2,"5":-7.3,"6":-8.4,"7":-9.6},
{"p":"HRK-L","f":18,"1":-9.6,"2":-10.9,"3":-9.1,"4":-9.4,"5":-7.3,"6":-8.5,"7":-9.7},
{"p":"HRK-L","f":23,"1":-10.0,"2":-11.5,"3":-9.7,"4":-9.5,"5":-7.0,"6":-9.5,"7":-9.9},
{"p":"HRK-L","f":30,"1":-10.6,"2":-12,"3":-10.5,"4":-9.7,"5":-7.8,"6":-10.3,"7":-10.3},
{"p":"HRK-L","f":38,"1":-10.9,"2":-12,"3":-10.9,"4":-10.1,"5":-8.7,"6":-10.7,"7":-10.7},
{"p":"HRK-L","f":46,"1":-11.4,"2":-12,"3":-11.4,"4":-11.3,"5":-11.0,"6":-11.4,"7":-11.4},
{"p":"HRS-S","f":0.1,"1":-7.64,"2":-7.64,"3":-7.63,"4":-7.64,"5":-7.63,"6":-7.62,"7":-7.65},
{"p":"HRS-S","f":0.15,"1":-7.45,"2":-7.45,"3":-7.44,"4":-7.45,"5":-7.44,"6":-7.43,"7":-7.46},
{"p":"HRS-S","f":0.2,"1":-7.3,"2":-7.3,"3":-7.29,"4":-7.3,"5":-7.29,"6":-7.28,"7":-7.31},
{"p":"HRS-S","f":0.3,"1":-7.15,"2":-7.15,"3":-7.14,"4":-7.15,"5":-7.14,"6":-7.13,"7":-7.16},
{"p":"HRS-S","f":0.4,"1":-7.07,"2":-7.07,"3":-7.06,"4":-7.07,"5":-7.06,"6":-7.05,"7":-7.08},
{"p":"HRS-S","f":0.5,"1":-7.15,"2":-7.15,"3":-7.14,"4":-7.15,"5":-7.14,"6":-7.13,"7":-7.16},
{"p":"HRS-S","f":0.65,"1":-7.5,"2":-7.5,"3":-7.49,"4":-7.5,"5":-7.49,"6":-7.48,"7":-7.51},
{"p":"HRS-S","f":0.8,"1":-8.1,"2":-8.1,"3":-8.09,"4":-8.1,"5":-8.09,"6":-8.08,"7":-8.11},
{"p":"HRS-S","f":1,"1":-8.8,"2":-8.82,"3":-8.8,"4":-8.82,"5":-8.8,"6":-8.8,"7":-8.83},
{"p":"HRS-S","f":1.2,"1":-9.45,"2":-9.5,"3":-9.45,"4":-9.5,"5":-9.45,"6":-9.45,"7":-9.5},
{"p":"HRS-S","f":1.5,"1":-9.5,"2":-9.55,"3":-9.5,"4":-9.55,"5":-9.5,"6":-9.5,"7":-9.55},
{"p":"HRS-S","f":2,"1":-8.85,"2":-8.9,"3":-8.85,"4":-8.9,"5":-8.85,"6":-8.85,"7":-8.9},
{"p":"HRS-S","f":2.5,"1":-8.2,"2":-8.3,"3":-8.3,"4":-8.3,"5":-8.3,"6":-8.3,"7":-8.35},
{"p":"HRS-S","f":3,"1":-7.8,"2":-8.0,"3":-8.0,"4":-8.0,"5":-8.0,"6":-8.0,"7":-8.2},
{"p":"HRS-S","f":3.5,"1":-7.85,"2":-8.0,"3":-8.0,"4":-8.05,"5":-8.0,"6":-8.0,"7":-8.25},
{"p":"HRS-S","f":4,"1":-8.1,"2":-8.15,"3":-8.15,"4":-8.2,"5":-8.15,"6":-8.1,"7":-8.45},
{"p":"HRS-S","f":4.5,"1":-8.0,"2":-8.0,"3":-8.0,"4":-8.05,"5":-7.95,"6":-7.95,"7":-8.35},
{"p":"HRS-S","f":5,"1":-7.9,"2":-7.9,"3":-7.85,"4":-7.95,"5":-7.85,"6":-7.85,"7":-8.3},
{"p":"HRS-S","f":6,"1":-7.75,"2":-7.75,"3":-7.7,"4":-7.8,"5":-7.7,"6":-7.7,"7":-8.15},
{"p":"HRS-S","f":7.5,"1":-7.7,"2":-7.65,"3":-7.65,"4":-7.75,"5":-7.6,"6":-7.6,"7":-8.1},
{"p":"HRS-S","f":9,"1":-7.5,"2":-7.45,"3":-7.45,"4":-7.6,"5":-7.4,"6":-7.45,"7":-7.95},
{"p":"HRS-S","f":11,"1":-7.3,"2":-7.15,"3":-7.3,"4":-7.5,"5":-7.25,"6":-7.25,"7":-7.75},
{"p":"HRS-S","f":14,"1":-7.7,"2":-7.55,"3":-7.6,"4":-7.9,"5":-7.5,"6":-7.5,"7":-8.4},
{"p":"HRS-S","f":18,"1":-8.4,"2":-8.3,"3":-8.2,"4":-8.8,"5":-8.2,"6":-8.1,"7":-8.8},
{"p":"HRS-S","f":23,"1":-9.0,"2":-8.95,"3":-8.8,"4":-9.4,"5":-8.8,"6":-8.7,"7":-9.3},
{"p":"HRS-S","f":30,"1":-9.7,"2":-9.7,"3":-9.5,"4":-10.0,"5":-9.5,"6":-9.4,"7":-10.1},
{"p":"HRS-S","f":38,"1":-10.3,"2":-10.3,"3":-10.1,"4":-10.5,"5":-10.1,"6":-10.1,"7":-10.8},
{"p":"HRS-S","f":46,"1":-11.1,"2":-11.1,"3":-11.0,"4":-11.2,"5":-11.1,"6":-11.0,"7":-11.3},
{"p":"HRS-M","f":0.1,"1":-7.25,"2":-7.8,"3":-7.75,"4":-7.8,"5":-7.68,"6":-7.82,"7":-7.9},
{"p":"HRS-M","f":0.15,"1":-6.95,"2":-7.4,"3":-7.35,"4":-7.4,"5":-7.3,"6":-7.42,"7":-7.55},
{"p":"HRS-M","f":0.2,"1":-6.8,"2":-7.2,"3":-7.15,"4":-7.2,"5":-7.1,"6":-7.22,"7":-7.3},
{"p":"HRS-M","f":0.3,"1":-6.55,"2":-6.8,"3":-6.78,"4":-6.75,"5":-6.7,"6":-6.82,"7":-6.9},
{"p":"HRS-M","f":0.4,"1":-6.55,"2":-6.7,"3":-6.7,"4":-6.68,"5":-6.6,"6":-6.75,"7":-6.8},
{"p":"HRS-M","f":0.5,"1":-6.8,"2":-6.95,"3":-6.95,"4":-6.93,"5":-6.85,"6":-7.0,"7":-7.0},
{"p":"HRS-M","f":0.65,"1":-7.5,"2":-7.8,"3":-7.8,"4":-7.8,"5":-7.6,"6":-7.8,"7":-7.8},
{"p":"HRS-M","f":0.8,"1":-8.3,"2":-8.65,"3":-8.65,"4":-8.65,"5":-8.45,"6":-8.7,"7":-8.65},
{"p":"HRS-M","f":1,"1":-8.8,"2":-8.9,"3":-9.4,"4":-9.4,"5":-9.2,"6":-9.5,"7":-9.4},
{"p":"HRS-M","f":1.2,"1":-9.1,"2":-9.2,"3":-9.65,"4":-9.65,"5":-9.5,"6":-10.0,"7":-9.65},
{"p":"HRS-M","f":1.5,"1":-8.8,"2":-9.25,"3":-9.4,"4":-9.4,"5":-9.4,"6":-9.6,"7":-9.4},
{"p":"HRS-M","f":2,"1":-8.4,"2":-8.7,"3":-8.8,"4":-8.8,"5":-8.8,"6":-8.8,"7":-8.8},
{"p":"HRS-M","f":2.5,"1":-8.0,"2":-8.2,"3":-8.2,"4":-8.2,"5":-8.2,"6":-8.3,"7":-8.2},
{"p":"HRS-M","f":3,"1":-7.7,"2":-7.4,"3":-7.45,"4":-7.7,"5":-7.6,"6":-8.2,"7":-7.8},
{"p":"HRS-M","f":3.5,"1":-7.7,"2":-7.4,"3":-7.6,"4":-8.1,"5":-7.5,"6":-8.1,"7":-8.0},
{"p":"HRS-M","f":4,"1":-7.5,"2":-7.1,"3":-7.35,"4":-8.1,"5":-7.1,"6":-8.0,"7":-7.5},
{"p":"HRS-M","f":4.5,"1":-7.4,"2":-7.0,"3":-7.2,"4":-7.9,"5":-7.0,"6":-7.9,"7":-7.5},
{"p":"HRS-M","f":5,"1":-7.3,"2":-6.7,"3":-7.2,"4":-7.7,"5":-6.9,"6":-7.8,"7":-7.4},
{"p":"HRS-M","f":6,"1":-7.5,"2":-6.9,"3":-6.9,"4":-7.8,"5":-6.4,"6":-7.7,"7":-7.4},
{"p":"HRS-M","f":7.5,"1":-7.8,"2":-7.0,"3":-7.0,"4":-7.7,"5":-7.0,"6":-7.4,"7":-7.3},
{"p":"HRS-M","f":9,"1":-7.8,"2":-7.3,"3":-6.8,"4":-7.6,"5":-7.3,"6":-7.3,"7":-7.1},
{"p":"HRS-M","f":11,"1":-7.9,"2":-7.7,"3":-6.9,"4":-7.6,"5":-7.7,"6":-7.4,"7":-6.9},
{"p":"HRS-M","f":14,"1":-8.1,"2":-8.2,"3":-7.2,"4":-7.6,"5":-8.3,"6":-7.6,"7":-6.8},
{"p":"HRS-M","f":18,"1":-8.6,"2":-8.9,"3":-8.1,"4":-8.1,"5":-8.8,"6":-8.5,"7":-7.4},
{"p":"HRS-M","f":23,"1":-9.0,"2":-9.5,"3":-8.8,"4":-8.9,"5":-9.5,"6":-9.0,"7":-7.9},
{"p":"HRS-M","f":30,"1":-9.7,"2":-10.3,"3":-9.5,"4":-9.4,"5":-10.3,"6":-10.0,"7":-8.7},
{"p":"HRS-M","f":38,"1":-10.3,"2":-10.7,"3":-10.3,"4":-10.1,"5":-10.6,"6":-10.5,"7":-9.7},
{"p":"HRS-M","f":46,"1":-11.3,"2":-11.3,"3":-11.3,"4":-11.2,"5":-11.3,"6":-11.3,"7":-10.9},
{"p":"HRS-L","f":0.1,"1":-9.9,"2":-9.8,"3":-9.5,"4":-10.05,"5":-9.92,"6":-9.85,"7":-10.1},
{"p":"HRS-L","f":0.15,"1":-9.22,"2":-9.17,"3":-8.82,"4":-9.32,"5":-9.22,"6":-9.17,"7":-9.52},
{"p":"HRS-L","f":0.2,"1":-8.72,"2":-8.67,"3":-8.32,"4":-8.82,"5":-8.72,"6":-8.62,"7":-9.02},
{"p":"HRS-L","f":0.3,"1":-7.92,"2":-7.92,"3":-7.62,"4":-8.02,"5":-7.92,"6":-7.92,"7":-8.52},
{"p":"HRS-L","f":0.4,"1":-7.87,"2":-7.87,"3":-7.72,"4":-7.87,"5":-7.87,"6":-7.82,"7":-8.27},
{"p":"HRS-L","f":0.5,"1":-7.92,"2":-7.82,"3":-7.92,"4":-7.92,"5":-7.87,"6":-8.32,"7":-8.02},
{"p":"HRS-L","f":0.65,"1":-7.92,"2":-7.82,"3":-8.32,"4":-8.02,"5":-7.92,"6":-8.62,"7":-7.82},
{"p":"HRS-L","f":0.8,"1":-8.52,"2":-8.42,"3":-8.42,"4":-8.52,"5":-8.42,"6":-8.82,"7":-8.42},
{"p":"HRS-L","f":1,"1":-9.22,"2":-9.22,"3":-9.02,"4":-9.22,"5":-9.22,"6":-9.22,"7":-9.42},
{"p":"HRS-L","f":1.2,"1":-9.92,"2":-9.57,"3":-9.42,"4":-10.12,"5":-10.02,"6":-10.12,"7":-10.22},
{"p":"HRS-L","f":1.5,"1":-9.82,"2":-9.62,"3":-9.22,"4":-9.62,"5":-9.62,"6":-9.62,"7":-9.92},
{"p":"HRS-L","f":2,"1":-9.02,"2":-8.82,"3":-8.42,"4":-8.92,"5":-8.72,"6":-8.92,"7":-9.52},
{"p":"HRS-L","f":2.5,"1":-8.42,"2":-8.12,"3":-7.62,"4":-8.32,"5":-8.02,"6":-8.32,"7":-9.22},
{"p":"HRS-L","f":3,"1":-8.32,"2":-7.92,"3":-7.12,"4":-8.42,"5":-7.82,"6":-8.12,"7":-8.92},
{"p":"HRS-L","f":3.5,"1":-8.22,"2":-7.92,"3":-7.02,"4":-8.52,"5":-7.62,"6":-8.22,"7":-9.02},
{"p":"HRS-L","f":4,"1":-8.02,"2":-7.82,"3":-6.82,"4":-8.62,"5":-7.32,"6":-8.32,"7":-9.32},
{"p":"HRS-L","f":4.5,"1":-8.0,"2":-7.85,"3":-6.5,"4":-8.7,"5":-7.3,"6":-8.4,"7":-9.35},
{"p":"HRS-L","f":5,"1":-7.92,"2":-7.92,"3":-6.22,"4":-8.82,"5":-7.42,"6":-8.52,"7":-9.42},
{"p":"HRS-L","f":6,"1":-8.02,"2":-7.92,"3":-5.82,"4":-8.72,"5":-7.22,"6":-8.62,"7":-9.32},
{"p":"HRS-L","f":7.5,"1":-7.82,"2":-8.02,"3":-5.92,"4":-8.62,"5":-7.52,"6":-8.82,"7":-9.32},
{"p":"HRS-L","f":9,"1":-7.72,"2":-7.92,"3":-6.22,"4":-8.72,"5":-7.62,"6":-8.72,"7":-9.22},
{"p":"HRS-L","f":11,"1":-7.42,"2":-7.62,"3":-6.62,"4":-8.62,"5":-7.52,"6":-8.62,"7":-9.12},
{"p":"HRS-L","f":14,"1":-7.62,"2":-7.22,"3":-7.32,"4":-8.52,"5":-7.92,"6":-8.62,"7":-9.02},
{"p":"HRS-L","f":18,"1":-8.02,"2":-7.62,"3":-8.42,"4":-9.32,"5":-8.52,"6":-9.32,"7":-9.62},
{"p":"HRS-L","f":23,"1":-8.82,"2":-8.52,"3":-9.42,"4":-9.82,"5":-9.42,"6":-10.12,"7":-10.42},
{"p":"HRS-L","f":30,"1":-9.62,"2":-9.12,"3":-9.82,"4":-9.82,"5":-10.12,"6":-10.62,"7":-11.2},
{"p":"HRS-L","f":38,"1":-10.42,"2":-9.82,"3":-10.42,"4":-10.42,"5":-10.62,"6":-10.82,"7":-11.6},
{"p":"HRS-L","f":46,"1":-11.2,"2":-11.2,"3":-11.2,"4":-11.2,"5":-11.3,"6":-11.3,"7":-11.6},
{"p":"IYG-S","f":0.1,"1":-8.87,"2":-8.3,"3":-8.3,"4":-8.87,"5":-8.37,"6":-8.37,"7":-8.87},
{"p":"IYG-S","f":0.15,"1":-8.75,"2":-8.2,"3":-8.22,"4":-8.75,"5":-8.27,"6":-8.28,"7":-8.75},
{"p":"IYG-S","f":0.2,"1":-8.65,"2":-8.13,"3":-8.17,"4":-8.65,"5":-8.2,"6":-8.22,"7":-8.65},
{"p":"IYG-S","f":0.3,"1":-8.47,"2":-8.02,"3":-8.1,"4":-8.47,"5":-8.05,"6":-8.08,"7":-8.47},
{"p":"IYG-S","f":0.4,"1":-8.36,"2":-7.95,"3":-8.17,"4":-8.36,"5":-8.0,"6":-8.05,"7":-8.36},
{"p":"IYG-S","f":0.5,"1":-8.35,"2":-7.95,"3":-8.2,"4":-8.35,"5":-8.02,"6":-8.07,"7":-8.35},
{"p":"IYG-S","f":0.65,"1":-8.55,"2":-8.15,"3":-8.4,"4":-8.55,"5":-8.25,"6":-8.25,"7":-8.55},
{"p":"IYG-S","f":0.8,"1":-8.85,"2":-8.5,"3":-8.65,"4":-8.85,"5":-8.55,"6":-8.55,"7":-8.85},
{"p":"IYG-S","f":1,"1":-9.2,"2":-8.9,"3":-9.0,"4":-9.2,"5":-8.95,"6":-8.95,"7":-9.2},
{"p":"IYG-S","f":1.2,"1":-9.45,"2":-9.05,"3":-9.15,"4":-9.45,"5":-9.12,"6":-9.1,"7":-9.45},
{"p":"IYG-S","f":1.5,"1":-9.05,"2":-8.85,"3":-8.9,"4":-9.05,"5":-8.88,"6":-8.85,"7":-9.05},
{"p":"IYG-S","f":2,"1":-8.2,"2":-8.12,"3":-8.2,"4":-8.25,"5":-8.15,"6":-8.1,"7":-8.15},
{"p":"IYG-S","f":2.5,"1":-7.6,"2":-7.5,"3":-7.65,"4":-7.6,"5":-7.55,"6":-7.5,"7":-7.55},
{"p":"IYG-S","f":3,"1":-7.1,"2":-7.0,"3":-7.3,"4":-7.1,"5":-7.1,"6":-7.05,"7":-7.05},
{"p":"IYG-S","f":3.5,"1":-7.15,"2":-7.1,"3":-7.45,"4":-7.15,"5":-7.1,"6":-7.1,"7":-7.05},
{"p":"IYG-S","f":4,"1":-7.2,"2":-7.15,"3":-7.3,"4":-7.2,"5":-7.15,"6":-7.1,"7":-7.05},
{"p":"IYG-S","f":4.5,"1":-7.15,"2":-7.1,"3":-7.25,"4":-7.15,"5":-7.1,"6":-7.0,"7":-6.95},
{"p":"IYG-S","f":5,"1":-7.3,"2":-7.3,"3":-7.35,"4":-7.25,"5":-7.25,"6":-7.2,"7":-7.2},
{"p":"IYG-S","f":6,"1":-7.55,"2":-7.6,"3":-7.6,"4":-7.6,"5":-7.35,"6":-7.4,"7":-7.5},
{"p":"IYG-S","f":7.5,"1":-7.8,"2":-7.95,"3":-7.8,"4":-7.8,"5":-7.65,"6":-7.7,"7":-7.75},
{"p":"IYG-S","f":9,"1":-7.95,"2":-8.2,"3":-8.0,"4":-8.0,"5":-7.9,"6":-7.9,"7":-7.95},
{"p":"IYG-S","f":11,"1":-8.1,"2":-8.2,"3":-8.15,"4":-8.15,"5":-7.9,"6":-8.0,"7":-8.0},
{"p":"IYG-S","f":14,"1":-8.4,"2":-8.35,"3":-8.4,"4":-8.6,"5":-8.3,"6":-8.35,"7":-8.3},
{"p":"IYG-S","f":18,"1":-8.95,"2":-8.9,"3":-8.75,"4":-9.2,"5":-8.85,"6":-8.8,"7":-8.85},
{"p":"IYG-S","f":23,"1":-9.4,"2":-9.3,"3":-9.05,"4":-9.7,"5":-9.3,"6":-9.25,"7":-9.3},
{"p":"IYG-S","f":30,"1":-9.6,"2":-9.85,"3":-9.7,"4":-10.35,"5":-9.95,"6":-9.8,"7":-9.9},
{"p":"IYG-S","f":38,"1":-10.3,"2":-10.2,"3":-9.95,"4":-10.65,"5":-10.2,"6":-10.05,"7":-10.3},
{"p":"IYG-S","f":46,"1":-11.1,"2":-11.0,"3":-10.9,"4":-11.2,"5":-11.0,"6":-10.9,"7":-11.1},
{"p":"IYG-M","f":0.1,"1":-8.3,"2":-8.3,"3":-8.3,"4":-8.28,"5":-8.3,"6":-8.3,"7":-8.3},
{"p":"IYG-M","f":0.15,"1":-7.75,"2":-7.77,"3":-7.77,"4":-7.72,"5":-7.78,"6":-7.75,"7":-7.78},
{"p":"IYG-M","f":0.2,"1":-7.42,"2":-7.45,"3":-7.45,"4":-7.37,"5":-7.47,"6":-7.43,"7":-7.47},
{"p":"IYG-M","f":0.3,"1":-7.02,"2":-7.07,"3":-7.07,"4":-6.97,"5":-7.12,"6":-7.02,"7":-7.12},
{"p":"IYG-M","f":0.4,"1":-6.87,"2":-6.92,"3":-6.92,"4":-6.72,"5":-7.02,"6":-6.9,"7":-7.0},
{"p":"IYG-M","f":0.5,"1":-6.97,"2":-7.02,"3":-7.07,"4":-6.82,"5":-7.12,"6":-7.02,"7":-7.12},
{"p":"IYG-M","f":0.65,"1":-7.77,"2":-7.77,"3":-7.77,"4":-7.47,"5":-7.77,"6":-7.77,"7":-7.77},
{"p":"IYG-M","f":0.8,"1":-8.47,"2":-8.47,"3":-8.47,"4":-8.07,"5":-8.4,"6":-8.47,"7":-8.47},
{"p":"IYG-M","f":1,"1":-9.35,"2":-9.35,"3":-9.4,"4":-8.67,"5":-9.0,"6":-9.35,"7":-9.35},
{"p":"IYG-M","f":1.2,"1":-9.15,"2":-9.25,"3":-9.25,"4":-9.0,"5":-9.1,"6":-9.25,"7":-9.2},
{"p":"IYG-M","f":1.5,"1":-9.05,"2":-9.05,"3":-9.1,"4":-9.0,"5":-8.9,"6":-9.45,"7":-8.9},
{"p":"IYG-M","f":2,"1":-8.8,"2":-8.85,"3":-8.8,"4":-8.8,"5":-8.4,"6":-8.95,"7":-8.7},
{"p":"IYG-M","f":2.5,"1":-8.4,"2":-8.45,"3":-8.4,"4":-8.55,"5":-7.75,"6":-8.45,"7":-8.4},
{"p":"IYG-M","f":3,"1":-7.77,"2":-7.57,"3":-7.47,"4":-8.27,"5":-6.57,"6":-7.97,"7":-7.87},
{"p":"IYG-M","f":3.5,"1":-7.57,"2":-7.47,"3":-7.37,"4":-7.87,"5":-6.07,"6":-8.07,"7":-7.67},
{"p":"IYG-M","f":4,"1":-7.17,"2":-7.57,"3":-7.47,"4":-7.37,"5":-6.17,"6":-8.27,"7":-7.77},
{"p":"IYG-M","f":4.5,"1":-7.37,"2":-7.67,"3":-7.67,"4":-7.27,"5":-6.07,"6":-8.37,"7":-8.17},
{"p":"IYG-M","f":5,"1":-7.47,"2":-7.77,"3":-7.77,"4":-7.37,"5":-6.37,"6":-8.57,"7":-8.37},
{"p":"IYG-M","f":6,"1":-7.57,"2":-7.87,"3":-7.97,"4":-7.57,"5":-6.97,"6":-8.67,"7":-8.77},
{"p":"IYG-M","f":7.5,"1":-7.77,"2":-7.57,"3":-8.37,"4":-7.77,"5":-6.87,"6":-8.97,"7":-8.87},
{"p":"IYG-M","f":9,"1":-7.87,"2":-8.57,"3":-8.67,"4":-7.97,"5":-7.07,"6":-9.17,"7":-9.17},
{"p":"IYG-M","f":11,"1":-7.77,"2":-8.87,"3":-9.17,"4":-8.07,"5":-7.27,"6":-9.37,"7":-9.27},
{"p":"IYG-M","f":14,"1":-8.17,"2":-9.37,"3":-9.57,"4":-8.37,"5":-7.67,"6":-9.57,"7":-9.77},
{"p":"IYG-M","f":18,"1":-8.57,"2":-9.87,"3":-10.17,"4":-8.77,"5":-8.17,"6":-9.97,"7":-10.17},
{"p":"IYG-M","f":23,"1":-8.97,"2":-10.47,"3":-10.27,"4":-9.27,"5":-8.77,"6":-10.37,"7":-10.77},
{"p":"IYG-M","f":30,"1":-9.37,"2":-10.77,"3":-10.87,"4":-9.37,"5":-9.77,"6":-10.37,"7":-11.2},
{"p":"IYG-M","f":38,"1":-9.77,"2":-11.2,"3":-11.2,"4":-8.97,"5":-10.07,"6":-10.17,"7":-11.4},
{"p":"IYG-M","f":46,"1":-11.0,"2":-11.4,"3":-11.4,"4":-10.6,"5":-11.2,"6":-10.8,"7":-11.4},
{"p":"IYG-L","f":0.1,"1":-10.08,"2":-9.78,"3":-10.37,"4":-10.03,"5":-10.0,"6":-10.52,"7":-10.32},
{"p":"IYG-L","f":0.15,"1":-9.2,"2":-8.9,"3":-9.2,"4":-9.1,"5":-9.1,"6":-9.49,"7":-9.39},
{"p":"IYG-L","f":0.2,"1":-8.51,"2":-8.31,"3":-8.51,"4":-8.46,"5":-8.46,"6":-8.8,"7":-8.7},
{"p":"IYG-L","f":0.3,"1":-7.87,"2":-7.77,"3":-7.92,"4":-7.82,"5":-7.82,"6":-8.02,"7":-7.92},
{"p":"IYG-L","f":0.4,"1":-7.82,"2":-7.73,"3":-7.97,"4":-7.77,"5":-7.77,"6":-7.92,"7":-7.87},
{"p":"IYG-L","f":0.5,"1":-7.97,"2":-7.92,"3":-8.12,"4":-7.92,"5":-7.97,"6":-8.12,"7":-8.12},
{"p":"IYG-L","f":0.65,"1":-8.02,"2":-7.97,"3":-8.22,"4":-7.97,"5":-7.92,"6":-8.22,"7":-8.07},
{"p":"IYG-L","f":0.8,"1":-8.02,"2":-8.12,"3":-8.31,"4":-8.17,"5":-8.22,"6":-8.36,"7":-8.22},
{"p":"IYG-L","f":1,"1":-9.1,"2":-9.1,"3":-9.1,"4":-9.1,"5":-9.1,"6":-9.1,"7":-9.1},
{"p":"IYG-L","f":1.2,"1":-9.59,"2":-9.59,"3":-9.49,"4":-9.59,"5":-9.59,"6":-9.65,"7":-9.6},
{"p":"IYG-L","f":1.5,"1":-9.59,"2":-9.29,"3":-9.1,"4":-9.29,"5":-9.49,"6":-9.69,"7":-9.49},
{"p":"IYG-L","f":2,"1":-9.2,"2":-8.9,"3":-8.51,"4":-8.61,"5":-9.0,"6":-9.39,"7":-8.8},
{"p":"IYG-L","f":2.5,"1":-8.51,"2":-8.22,"3":-7.24,"4":-8.41,"5":-8.9,"6":-9.29,"7":-9.0},
{"p":"IYG-L","f":3,"1":-7.8,"2":-7.73,"3":-6.55,"4":-8.31,"5":-8.51,"6":-9.2,"7":-9.29},
{"p":"IYG-L","f":3.5,"1":-7.5,"2":-7.55,"3":-6.05,"4":-8.22,"5":-8.1,"6":-9.39,"7":-9.39},
{"p":"IYG-L","f":4,"1":-7.73,"2":-7.53,"3":-5.75,"4":-8.12,"5":-8.31,"6":-9.49,"7":-9.39},
{"p":"IYG-L","f":4.5,"1":-7.92,"2":-7.43,"3":-5.67,"4":-8.02,"5":-8.51,"6":-9.69,"7":-9.59},
{"p":"IYG-L","f":5,"1":-7.73,"2":-7.24,"3":-5.6,"4":-7.92,"5":-8.61,"6":-9.88,"7":-9.78},
{"p":"IYG-L","f":6,"1":-8.41,"2":-7.43,"3":-5.67,"4":-8.31,"5":-9.0,"6":-10.08,"7":-10.08},
{"p":"IYG-L","f":7.5,"1":-8.51,"2":-7.63,"3":-5.96,"4":-8.8,"5":-9.69,"6":-10.37,"7":-10.37},
{"p":"IYG-L","f":9,"1":-8.61,"2":-7.73,"3":-6.25,"4":-9.0,"5":-9.29,"6":-10.57,"7":-10.57},
{"p":"IYG-L","f":11,"1":-8.61,"2":-7.92,"3":-6.55,"4":-9.2,"5":-9.88,"6":-10.86,"7":-10.86},
{"p":"IYG-L","f":14,"1":-8.31,"2":-8.31,"3":-7.04,"4":-9.59,"5":-10.47,"6":-10.95,"7":-10.95},
{"p":"IYG-L","f":18,"1":-9.0,"2":-9.0,"3":-7.82,"4":-10.08,"5":-10.86,"6":-10.97,"7":-11.1},
{"p":"IYG-L","f":23,"1":-9.69,"2":-9.78,"3":-8.9,"4":-10.57,"5":-11.3,"6":-10.95,"7":-11.5},
{"p":"IYG-L","f":30,"1":-10.47,"2":-10.47,"3":-9.78,"4":-11.1,"5":-11.5,"6":-11.2,"7":-11.5},
{"p":"IYG-L","f":38,"1":-11.1,"2":-10.86,"3":-10.47,"4":-11.5,"5":-11.5,"6":-11.5,"7":-11.5},
{"p":"IYG-L","f":46,"1":-11.5,"2":-11.3,"3":-11.3,"4":-11.5,"5":-11.5,"6":-11.5,"7":-11.5}
]},
"columns":3,
"spacing":{"row":30,"column":21},
"concat":[
{"transform":[{"filter":"datum.p=='FJS-S'"}],"layer":[{"transform":[{"fold":["1","2","3","4","5","6","7"],"as":["s","v"]}],"mark":{"type":"line","clip":true,"strokeWidth":1.7},"encoding":{"x":{"field":"f","type":"quantitative","scale":{"type":"log","domain":[0.1,50],"nice":false},"axis":{"orient":"bottom","values":[0.1,0.2,0.3,0.4,0.5,0.6,0.7,0.8,0.9,1,2,3,4,5,6,7,8,9,10,20,30,40,50],"labelExpr":"datum.value==0.1?'0.1':datum.value==1?'1.0':datum.value==10?'10.0':datum.value==50?'50.0':''","labelAlign":{"condition":{"test":"datum.value==0.1","value":"left"},"value":"center"},"title":"Frequency(Hz)"}},"y":{"field":"v","type":"quantitative","scale":{"domain":[-11,-5],"nice":false,"zero":false},"axis":{"orient":"left","values":[-11,-10,-9,-8,-7,-6,-5],"labelExpr":"'10'+['⁻¹¹','⁻¹⁰','⁻⁹','⁻⁸','⁻⁷','⁻⁶','⁻⁵'][datum.value+11]","title":"Power Spectra(cm/s*s)"}},"color":{"field":"s","type":"nominal","legend":{"title":null,"orient":"none","legendX":290,"legendY":75,"encode":{"labels":{"update":{"fill":{"signal":"['#000000','#ff0000','#00ee00','#0000ff','#00ffff','#f5f500','#ff00ff'][toNumber(datum.label)-1]"}}}}}}}},{"data":{"values":[{}]},"mark":{"type":"text","text":"Average PWS","align":"left","baseline":"alphabetic","fontSize":15},"encoding":{"x":{"datum":0.127,"type":"quantitative","axis":{"orient":"top","values":[0.1,0.2,0.3,0.4,0.5,0.6,0.7,0.8,0.9,1,2,3,4,5,6,7,8,9,10,20,30,40,50],"labels":false,"title":null}},"y":{"datum":-5.84,"type":"quantitative","axis":{"orient":"right","values":[-11,-10,-9,-8,-7,-6,-5],"labels":false,"title":null}}}},{"data":{"values":[{}]},"mark":{"type":"text","text":"FJS-S","align":"right","baseline":"alphabetic","fontSize":40,"font":"DejaVu Sans Condensed, Liberation Sans, sans-serif"},"encoding":{"x":{"datum":37.6,"type":"quantitative","axis":null},"y":{"datum":-6.5,"type":"quantitative","axis":null}}}],"resolve":{"axis":{"x":"independent","y":"independent"}}},
{"transform":[{"filter":"datum.p=='FJS-M'"}],"layer":[{"transform":[{"fold":["1","2","3","4","5","6","7"],"as":["s","v"]}],"mark":{"type":"line","clip":true,"strokeWidth":1.7},"encoding":{"x":{"field":"f","type":"quantitative","scale":{"type":"log","domain":[0.1,50],"nice":false},"axis":{"orient":"bottom","values":[0.1,0.2,0.3,0.4,0.5,0.6,0.7,0.8,0.9,1,2,3,4,5,6,7,8,9,10,20,30,40,50],"labelExpr":"datum.value==0.1?'0.1':datum.value==1?'1.0':datum.value==10?'10.0':datum.value==50?'50.0':''","labelAlign":{"condition":{"test":"datum.value==0.1","value":"left"},"value":"center"},"title":"Frequency(Hz)"}},"y":{"field":"v","type":"quantitative","scale":{"domain":[-11,-5],"nice":false,"zero":false},"axis":{"orient":"left","values":[-11,-10,-9,-8,-7,-6,-5],"labelExpr":"'10'+['⁻¹¹','⁻¹⁰','⁻⁹','⁻⁸','⁻⁷','⁻⁶','⁻⁵'][datum.value+11]","title":"Power Spectra(cm/s*s)"}},"color":{"field":"s","type":"nominal","legend":{"title":null,"orient":"none","legendX":290,"legendY":75,"encode":{"labels":{"update":{"fill":{"signal":"['#000000','#ff0000','#00ee00','#0000ff','#00ffff','#f5f500','#ff00ff'][toNumber(datum.label)-1]"}}}}}}}},{"data":{"values":[{}]},"mark":{"type":"text","text":"Average PWS","align":"left","baseline":"alphabetic","fontSize":15},"encoding":{"x":{"datum":0.127,"type":"quantitative","axis":{"orient":"top","values":[0.1,0.2,0.3,0.4,0.5,0.6,0.7,0.8,0.9,1,2,3,4,5,6,7,8,9,10,20,30,40,50],"labels":false,"title":null}},"y":{"datum":-5.84,"type":"quantitative","axis":{"orient":"right","values":[-11,-10,-9,-8,-7,-6,-5],"labels":false,"title":null}}}},{"data":{"values":[{}]},"mark":{"type":"text","text":"FJS-M","align":"right","baseline":"alphabetic","fontSize":40,"font":"DejaVu Sans Condensed, Liberation Sans, sans-serif"},"encoding":{"x":{"datum":37.6,"type":"quantitative","axis":null},"y":{"datum":-6.5,"type":"quantitative","axis":null}}}],"resolve":{"axis":{"x":"independent","y":"independent"}}},
{"transform":[{"filter":"datum.p=='FJS-L'"}],"layer":[{"transform":[{"fold":["1","2","3","4","5","6","7"],"as":["s","v"]}],"mark":{"type":"line","clip":true,"strokeWidth":1.7},"encoding":{"x":{"field":"f","type":"quantitative","scale":{"type":"log","domain":[0.1,50],"nice":false},"axis":{"orient":"bottom","values":[0.1,0.2,0.3,0.4,0.5,0.6,0.7,0.8,0.9,1,2,3,4,5,6,7,8,9,10,20,30,40,50],"labelExpr":"datum.value==0.1?'0.1':datum.value==1?'1.0':datum.value==10?'10.0':datum.value==50?'50.0':''","labelAlign":{"condition":{"test":"datum.value==0.1","value":"left"},"value":"center"},"title":"Frequency(Hz)"}},"y":{"field":"v","type":"quantitative","scale":{"domain":[-11,-5],"nice":false,"zero":false},"axis":{"orient":"left","values":[-11,-10,-9,-8,-7,-6,-5],"labelExpr":"'10'+['⁻¹¹','⁻¹⁰','⁻⁹','⁻⁸','⁻⁷','⁻⁶','⁻⁵'][datum.value+11]","title":"Power Spectra(cm/s*s)"}},"color":{"field":"s","type":"nominal","legend":{"title":null,"orient":"none","legendX":290,"legendY":75,"encode":{"labels":{"update":{"fill":{"signal":"['#000000','#ff0000','#00ee00','#0000ff','#00ffff','#f5f500','#ff00ff'][toNumber(datum.label)-1]"}}}}}}}},{"data":{"values":[{}]},"mark":{"type":"text","text":"Average PWS","align":"left","baseline":"alphabetic","fontSize":15},"encoding":{"x":{"datum":0.127,"type":"quantitative","axis":{"orient":"top","values":[0.1,0.2,0.3,0.4,0.5,0.6,0.7,0.8,0.9,1,2,3,4,5,6,7,8,9,10,20,30,40,50],"labels":false,"title":null}},"y":{"datum":-5.84,"type":"quantitative","axis":{"orient":"right","values":[-11,-10,-9,-8,-7,-6,-5],"labels":false,"title":null}}}},{"data":{"values":[{}]},"mark":{"type":"text","text":"FJS-L","align":"right","baseline":"alphabetic","fontSize":40,"font":"DejaVu Sans Condensed, Liberation Sans, sans-serif"},"encoding":{"x":{"datum":37.6,"type":"quantitative","axis":null},"y":{"datum":-6.5,"type":"quantitative","axis":null}}}],"resolve":{"axis":{"x":"independent","y":"independent"}}},
{"transform":[{"filter":"datum.p=='GSW-S'"}],"layer":[{"transform":[{"fold":["1","2","3","4","5","6","7"],"as":["s","v"]}],"mark":{"type":"line","clip":true,"strokeWidth":1.7},"encoding":{"x":{"field":"f","type":"quantitative","scale":{"type":"log","domain":[0.1,50],"nice":false},"axis":{"orient":"bottom","values":[0.1,0.2,0.3,0.4,0.5,0.6,0.7,0.8,0.9,1,2,3,4,5,6,7,8,9,10,20,30,40,50],"labelExpr":"datum.value==0.1?'0.1':datum.value==1?'1.0':datum.value==10?'10.0':datum.value==50?'50.0':''","labelAlign":{"condition":{"test":"datum.value==0.1","value":"left"},"value":"center"},"title":"Frequency(Hz)"}},"y":{"field":"v","type":"quantitative","scale":{"domain":[-11,-5],"nice":false,"zero":false},"axis":{"orient":"left","values":[-11,-10,-9,-8,-7,-6,-5],"labelExpr":"'10'+['⁻¹¹','⁻¹⁰','⁻⁹','⁻⁸','⁻⁷','⁻⁶','⁻⁵'][datum.value+11]","title":"Power Spectra(cm/s*s)"}},"color":{"field":"s","type":"nominal","legend":{"title":null,"orient":"none","legendX":290,"legendY":75,"encode":{"labels":{"update":{"fill":{"signal":"['#000000','#ff0000','#00ee00','#0000ff','#00ffff','#f5f500','#ff00ff'][toNumber(datum.label)-1]"}}}}}}}},{"data":{"values":[{}]},"mark":{"type":"text","text":"Average PWS","align":"left","baseline":"alphabetic","fontSize":15},"encoding":{"x":{"datum":0.127,"type":"quantitative","axis":{"orient":"top","values":[0.1,0.2,0.3,0.4,0.5,0.6,0.7,0.8,0.9,1,2,3,4,5,6,7,8,9,10,20,30,40,50],"labels":false,"title":null}},"y":{"datum":-5.84,"type":"quantitative","axis":{"orient":"right","values":[-11,-10,-9,-8,-7,-6,-5],"labels":false,"title":null}}}},{"data":{"values":[{}]},"mark":{"type":"text","text":"GSW-S","align":"right","baseline":"alphabetic","fontSize":40,"font":"DejaVu Sans Condensed, Liberation Sans, sans-serif"},"encoding":{"x":{"datum":37.6,"type":"quantitative","axis":null},"y":{"datum":-6.5,"type":"quantitative","axis":null}}}],"resolve":{"axis":{"x":"independent","y":"independent"}}},
{"transform":[{"filter":"datum.p=='GSW-M'"}],"layer":[{"transform":[{"fold":["1","2","3","4","5","6","7"],"as":["s","v"]}],"mark":{"type":"line","clip":true,"strokeWidth":1.7},"encoding":{"x":{"field":"f","type":"quantitative","scale":{"type":"log","domain":[0.1,50],"nice":false},"axis":{"orient":"bottom","values":[0.1,0.2,0.3,0.4,0.5,0.6,0.7,0.8,0.9,1,2,3,4,5,6,7,8,9,10,20,30,40,50],"labelExpr":"datum.value==0.1?'0.1':datum.value==1?'1.0':datum.value==10?'10.0':datum.value==50?'50.0':''","labelAlign":{"condition":{"test":"datum.value==0.1","value":"left"},"value":"center"},"title":"Frequency(Hz)"}},"y":{"field":"v","type":"quantitative","scale":{"domain":[-11,-5],"nice":false,"zero":false},"axis":{"orient":"left","values":[-11,-10,-9,-8,-7,-6,-5],"labelExpr":"'10'+['⁻¹¹','⁻¹⁰','⁻⁹','⁻⁸','⁻⁷','⁻⁶','⁻⁵'][datum.value+11]","title":"Power Spectra(cm/s*s)"}},"color":{"field":"s","type":"nominal","legend":{"title":null,"orient":"none","legendX":290,"legendY":75,"encode":{"labels":{"update":{"fill":{"signal":"['#000000','#ff0000','#00ee00','#0000ff','#00ffff','#f5f500','#ff00ff'][toNumber(datum.label)-1]"}}}}}}}},{"data":{"values":[{}]},"mark":{"type":"text","text":"Average PWS","align":"left","baseline":"alphabetic","fontSize":15},"encoding":{"x":{"datum":0.127,"type":"quantitative","axis":{"orient":"top","values":[0.1,0.2,0.3,0.4,0.5,0.6,0.7,0.8,0.9,1,2,3,4,5,6,7,8,9,10,20,30,40,50],"labels":false,"title":null}},"y":{"datum":-5.84,"type":"quantitative","axis":{"orient":"right","values":[-11,-10,-9,-8,-7,-6,-5],"labels":false,"title":null}}}},{"data":{"values":[{}]},"mark":{"type":"text","text":"GSW-M","align":"right","baseline":"alphabetic","fontSize":40,"font":"DejaVu Sans Condensed, Liberation Sans, sans-serif"},"encoding":{"x":{"datum":37.6,"type":"quantitative","axis":null},"y":{"datum":-6.5,"type":"quantitative","axis":null}}}],"resolve":{"axis":{"x":"independent","y":"independent"}}},
{"transform":[{"filter":"datum.p=='GSW-L'"}],"layer":[{"transform":[{"fold":["1","2","3","4","5","6","7"],"as":["s","v"]}],"mark":{"type":"line","clip":true,"strokeWidth":1.7},"encoding":{"x":{"field":"f","type":"quantitative","scale":{"type":"log","domain":[0.1,50],"nice":false},"axis":{"orient":"bottom","values":[0.1,0.2,0.3,0.4,0.5,0.6,0.7,0.8,0.9,1,2,3,4,5,6,7,8,9,10,20,30,40,50],"labelExpr":"datum.value==0.1?'0.1':datum.value==1?'1.0':datum.value==10?'10.0':datum.value==50?'50.0':''","labelAlign":{"condition":{"test":"datum.value==0.1","value":"left"},"value":"center"},"title":"Frequency(Hz)"}},"y":{"field":"v","type":"quantitative","scale":{"domain":[-11,-5],"nice":false,"zero":false},"axis":{"orient":"left","values":[-11,-10,-9,-8,-7,-6,-5],"labelExpr":"'10'+['⁻¹¹','⁻¹⁰','⁻⁹','⁻⁸','⁻⁷','⁻⁶','⁻⁵'][datum.value+11]","title":"Power Spectra(cm/s*s)"}},"color":{"field":"s","type":"nominal","legend":{"title":null,"orient":"none","legendX":290,"legendY":75,"encode":{"labels":{"update":{"fill":{"signal":"['#000000','#ff0000','#00ee00','#0000ff','#00ffff','#f5f500','#ff00ff'][toNumber(datum.label)-1]"}}}}}}}},{"data":{"values":[{}]},"mark":{"type":"text","text":"Average PWS","align":"left","baseline":"alphabetic","fontSize":15},"encoding":{"x":{"datum":0.127,"type":"quantitative","axis":{"orient":"top","values":[0.1,0.2,0.3,0.4,0.5,0.6,0.7,0.8,0.9,1,2,3,4,5,6,7,8,9,10,20,30,40,50],"labels":false,"title":null}},"y":{"datum":-5.84,"type":"quantitative","axis":{"orient":"right","values":[-11,-10,-9,-8,-7,-6,-5],"labels":false,"title":null}}}},{"data":{"values":[{}]},"mark":{"type":"text","text":"GSW-L","align":"right","baseline":"alphabetic","fontSize":40,"font":"DejaVu Sans Condensed, Liberation Sans, sans-serif"},"encoding":{"x":{"datum":37.6,"type":"quantitative","axis":null},"y":{"datum":-6.5,"type":"quantitative","axis":null}}}],"resolve":{"axis":{"x":"independent","y":"independent"}}},
{"transform":[{"filter":"datum.p=='HRK-S'"}],"layer":[{"transform":[{"fold":["1","2","3","4","5","6","7"],"as":["s","v"]}],"mark":{"type":"line","clip":true,"strokeWidth":1.7},"encoding":{"x":{"field":"f","type":"quantitative","scale":{"type":"log","domain":[0.1,50],"nice":false},"axis":{"orient":"bottom","values":[0.1,0.2,0.3,0.4,0.5,0.6,0.7,0.8,0.9,1,2,3,4,5,6,7,8,9,10,20,30,40,50],"labelExpr":"datum.value==0.1?'0.1':datum.value==1?'1.0':datum.value==10?'10.0':datum.value==50?'50.0':''","labelAlign":{"condition":{"test":"datum.value==0.1","value":"left"},"value":"center"},"title":"Frequency(Hz)"}},"y":{"field":"v","type":"quantitative","scale":{"domain":[-11,-5],"nice":false,"zero":false},"axis":{"orient":"left","values":[-11,-10,-9,-8,-7,-6,-5],"labelExpr":"'10'+['⁻¹¹','⁻¹⁰','⁻⁹','⁻⁸','⁻⁷','⁻⁶','⁻⁵'][datum.value+11]","title":"Power Spectra(cm/s*s)"}},"color":{"field":"s","type":"nominal","legend":{"title":null,"orient":"none","legendX":290,"legendY":75,"encode":{"labels":{"update":{"fill":{"signal":"['#000000','#ff0000','#00ee00','#0000ff','#00ffff','#f5f500','#ff00ff'][toNumber(datum.label)-1]"}}}}}}}},{"data":{"values":[{}]},"mark":{"type":"text","text":"Average PWS","align":"left","baseline":"alphabetic","fontSize":15},"encoding":{"x":{"datum":0.127,"type":"quantitative","axis":{"orient":"top","values":[0.1,0.2,0.3,0.4,0.5,0.6,0.7,0.8,0.9,1,2,3,4,5,6,7,8,9,10,20,30,40,50],"labels":false,"title":null}},"y":{"datum":-5.84,"type":"quantitative","axis":{"orient":"right","values":[-11,-10,-9,-8,-7,-6,-5],"labels":false,"title":null}}}},{"data":{"values":[{}]},"mark":{"type":"text","text":"HRK-S","align":"right","baseline":"alphabetic","fontSize":40,"font":"DejaVu Sans Condensed, Liberation Sans, sans-serif"},"encoding":{"x":{"datum":37.6,"type":"quantitative","axis":null},"y":{"datum":-6.5,"type":"quantitative","axis":null}}}],"resolve":{"axis":{"x":"independent","y":"independent"}}},
{"transform":[{"filter":"datum.p=='HRK-M'"}],"layer":[{"transform":[{"fold":["1","2","3","4","5","6","7"],"as":["s","v"]}],"mark":{"type":"line","clip":true,"strokeWidth":1.7},"encoding":{"x":{"field":"f","type":"quantitative","scale":{"type":"log","domain":[0.1,50],"nice":false},"axis":{"orient":"bottom","values":[0.1,0.2,0.3,0.4,0.5,0.6,0.7,0.8,0.9,1,2,3,4,5,6,7,8,9,10,20,30,40,50],"labelExpr":"datum.value==0.1?'0.1':datum.value==1?'1.0':datum.value==10?'10.0':datum.value==50?'50.0':''","labelAlign":{"condition":{"test":"datum.value==0.1","value":"left"},"value":"center"},"title":"Frequency(Hz)"}},"y":{"field":"v","type":"quantitative","scale":{"domain":[-11,-5],"nice":false,"zero":false},"axis":{"orient":"left","values":[-11,-10,-9,-8,-7,-6,-5],"labelExpr":"'10'+['⁻¹¹','⁻¹⁰','⁻⁹','⁻⁸','⁻⁷','⁻⁶','⁻⁵'][datum.value+11]","title":"Power Spectra(cm/s*s)"}},"color":{"field":"s","type":"nominal","legend":{"title":null,"orient":"none","legendX":290,"legendY":75,"encode":{"labels":{"update":{"fill":{"signal":"['#000000','#ff0000','#00ee00','#0000ff','#00ffff','#f5f500','#ff00ff'][toNumber(datum.label)-1]"}}}}}}}},{"data":{"values":[{}]},"mark":{"type":"text","text":"Average PWS","align":"left","baseline":"alphabetic","fontSize":15},"encoding":{"x":{"datum":0.127,"type":"quantitative","axis":{"orient":"top","values":[0.1,0.2,0.3,0.4,0.5,0.6,0.7,0.8,0.9,1,2,3,4,5,6,7,8,9,10,20,30,40,50],"labels":false,"title":null}},"y":{"datum":-5.84,"type":"quantitative","axis":{"orient":"right","values":[-11,-10,-9,-8,-7,-6,-5],"labels":false,"title":null}}}},{"data":{"values":[{}]},"mark":{"type":"text","text":"HRK-M","align":"right","baseline":"alphabetic","fontSize":40,"font":"DejaVu Sans Condensed, Liberation Sans, sans-serif"},"encoding":{"x":{"datum":37.6,"type":"quantitative","axis":null},"y":{"datum":-6.5,"type":"quantitative","axis":null}}}],"resolve":{"axis":{"x":"independent","y":"independent"}}},
{"transform":[{"filter":"datum.p=='HRK-L'"}],"layer":[{"transform":[{"fold":["1","2","3","4","5","6","7"],"as":["s","v"]}],"mark":{"type":"line","clip":true,"strokeWidth":1.7},"encoding":{"x":{"field":"f","type":"quantitative","scale":{"type":"log","domain":[0.1,50],"nice":false},"axis":{"orient":"bottom","values":[0.1,0.2,0.3,0.4,0.5,0.6,0.7,0.8,0.9,1,2,3,4,5,6,7,8,9,10,20,30,40,50],"labelExpr":"datum.value==0.1?'0.1':datum.value==1?'1.0':datum.value==10?'10.0':datum.value==50?'50.0':''","labelAlign":{"condition":{"test":"datum.value==0.1","value":"left"},"value":"center"},"title":"Frequency(Hz)"}},"y":{"field":"v","type":"quantitative","scale":{"domain":[-11,-5],"nice":false,"zero":false},"axis":{"orient":"left","values":[-11,-10,-9,-8,-7,-6,-5],"labelExpr":"'10'+['⁻¹¹','⁻¹⁰','⁻⁹','⁻⁸','⁻⁷','⁻⁶','⁻⁵'][datum.value+11]","title":"Power Spectra(cm/s*s)"}},"color":{"field":"s","type":"nominal","legend":{"title":null,"orient":"none","legendX":290,"legendY":75,"encode":{"labels":{"update":{"fill":{"signal":"['#000000','#ff0000','#00ee00','#0000ff','#00ffff','#f5f500','#ff00ff'][toNumber(datum.label)-1]"}}}}}}}},{"data":{"values":[{}]},"mark":{"type":"text","text":"Average PWS","align":"left","baseline":"alphabetic","fontSize":15},"encoding":{"x":{"datum":0.127,"type":"quantitative","axis":{"orient":"top","values":[0.1,0.2,0.3,0.4,0.5,0.6,0.7,0.8,0.9,1,2,3,4,5,6,7,8,9,10,20,30,40,50],"labels":false,"title":null}},"y":{"datum":-5.84,"type":"quantitative","axis":{"orient":"right","values":[-11,-10,-9,-8,-7,-6,-5],"labels":false,"title":null}}}},{"data":{"values":[{}]},"mark":{"type":"text","text":"HRK-L","align":"right","baseline":"alphabetic","fontSize":40,"font":"DejaVu Sans Condensed, Liberation Sans, sans-serif"},"encoding":{"x":{"datum":37.6,"type":"quantitative","axis":null},"y":{"datum":-6.5,"type":"quantitative","axis":null}}}],"resolve":{"axis":{"x":"independent","y":"independent"}}},
{"transform":[{"filter":"datum.p=='HRS-S'"}],"layer":[{"transform":[{"fold":["1","2","3","4","5","6","7"],"as":["s","v"]}],"mark":{"type":"line","clip":true,"strokeWidth":1.7},"encoding":{"x":{"field":"f","type":"quantitative","scale":{"type":"log","domain":[0.1,50],"nice":false},"axis":{"orient":"bottom","values":[0.1,0.2,0.3,0.4,0.5,0.6,0.7,0.8,0.9,1,2,3,4,5,6,7,8,9,10,20,30,40,50],"labelExpr":"datum.value==0.1?'0.1':datum.value==1?'1.0':datum.value==10?'10.0':datum.value==50?'50.0':''","labelAlign":{"condition":{"test":"datum.value==0.1","value":"left"},"value":"center"},"title":"Frequency(Hz)"}},"y":{"field":"v","type":"quantitative","scale":{"domain":[-11,-5],"nice":false,"zero":false},"axis":{"orient":"left","values":[-11,-10,-9,-8,-7,-6,-5],"labelExpr":"'10'+['⁻¹¹','⁻¹⁰','⁻⁹','⁻⁸','⁻⁷','⁻⁶','⁻⁵'][datum.value+11]","title":"Power Spectra(cm/s*s)"}},"color":{"field":"s","type":"nominal","legend":{"title":null,"orient":"none","legendX":290,"legendY":75,"encode":{"labels":{"update":{"fill":{"signal":"['#000000','#ff0000','#00ee00','#0000ff','#00ffff','#f5f500','#ff00ff'][toNumber(datum.label)-1]"}}}}}}}},{"data":{"values":[{}]},"mark":{"type":"text","text":"Average PWS","align":"left","baseline":"alphabetic","fontSize":15},"encoding":{"x":{"datum":0.127,"type":"quantitative","axis":{"orient":"top","values":[0.1,0.2,0.3,0.4,0.5,0.6,0.7,0.8,0.9,1,2,3,4,5,6,7,8,9,10,20,30,40,50],"labels":false,"title":null}},"y":{"datum":-5.84,"type":"quantitative","axis":{"orient":"right","values":[-11,-10,-9,-8,-7,-6,-5],"labels":false,"title":null}}}},{"data":{"values":[{}]},"mark":{"type":"text","text":"HRS-S","align":"right","baseline":"alphabetic","fontSize":40,"font":"DejaVu Sans Condensed, Liberation Sans, sans-serif"},"encoding":{"x":{"datum":37.6,"type":"quantitative","axis":null},"y":{"datum":-6.5,"type":"quantitative","axis":null}}}],"resolve":{"axis":{"x":"independent","y":"independent"}}},
{"transform":[{"filter":"datum.p=='HRS-M'"}],"layer":[{"transform":[{"fold":["1","2","3","4","5","6","7"],"as":["s","v"]}],"mark":{"type":"line","clip":true,"strokeWidth":1.7},"encoding":{"x":{"field":"f","type":"quantitative","scale":{"type":"log","domain":[0.1,50],"nice":false},"axis":{"orient":"bottom","values":[0.1,0.2,0.3,0.4,0.5,0.6,0.7,0.8,0.9,1,2,3,4,5,6,7,8,9,10,20,30,40,50],"labelExpr":"datum.value==0.1?'0.1':datum.value==1?'1.0':datum.value==10?'10.0':datum.value==50?'50.0':''","labelAlign":{"condition":{"test":"datum.value==0.1","value":"left"},"value":"center"},"title":"Frequency(Hz)"}},"y":{"field":"v","type":"quantitative","scale":{"domain":[-11,-5],"nice":false,"zero":false},"axis":{"orient":"left","values":[-11,-10,-9,-8,-7,-6,-5],"labelExpr":"'10'+['⁻¹¹','⁻¹⁰','⁻⁹','⁻⁸','⁻⁷','⁻⁶','⁻⁵'][datum.value+11]","title":"Power Spectra(cm/s*s)"}},"color":{"field":"s","type":"nominal","legend":{"title":null,"orient":"none","legendX":290,"legendY":75,"encode":{"labels":{"update":{"fill":{"signal":"['#000000','#ff0000','#00ee00','#0000ff','#00ffff','#f5f500','#ff00ff'][toNumber(datum.label)-1]"}}}}}}}},{"data":{"values":[{}]},"mark":{"type":"text","text":"Average PWS","align":"left","baseline":"alphabetic","fontSize":15},"encoding":{"x":{"datum":0.127,"type":"quantitative","axis":{"orient":"top","values":[0.1,0.2,0.3,0.4,0.5,0.6,0.7,0.8,0.9,1,2,3,4,5,6,7,8,9,10,20,30,40,50],"labels":false,"title":null}},"y":{"datum":-5.84,"type":"quantitative","axis":{"orient":"right","values":[-11,-10,-9,-8,-7,-6,-5],"labels":false,"title":null}}}},{"data":{"values":[{}]},"mark":{"type":"text","text":"HRS-M","align":"right","baseline":"alphabetic","fontSize":40,"font":"DejaVu Sans Condensed, Liberation Sans, sans-serif"},"encoding":{"x":{"datum":37.6,"type":"quantitative","axis":null},"y":{"datum":-6.5,"type":"quantitative","axis":null}}}],"resolve":{"axis":{"x":"independent","y":"independent"}}},
{"transform":[{"filter":"datum.p=='HRS-L'"}],"layer":[{"transform":[{"fold":["1","2","3","4","5","6","7"],"as":["s","v"]}],"mark":{"type":"line","clip":true,"strokeWidth":1.7},"encoding":{"x":{"field":"f","type":"quantitative","scale":{"type":"log","domain":[0.1,50],"nice":false},"axis":{"orient":"bottom","values":[0.1,0.2,0.3,0.4,0.5,0.6,0.7,0.8,0.9,1,2,3,4,5,6,7,8,9,10,20,30,40,50],"labelExpr":"datum.value==0.1?'0.1':datum.value==1?'1.0':datum.value==10?'10.0':datum.value==50?'50.0':''","labelAlign":{"condition":{"test":"datum.value==0.1","value":"left"},"value":"center"},"title":"Frequency(Hz)"}},"y":{"field":"v","type":"quantitative","scale":{"domain":[-11,-5],"nice":false,"zero":false},"axis":{"orient":"left","values":[-11,-10,-9,-8,-7,-6,-5],"labelExpr":"'10'+['⁻¹¹','⁻¹⁰','⁻⁹','⁻⁸','⁻⁷','⁻⁶','⁻⁵'][datum.value+11]","title":"Power Spectra(cm/s*s)"}},"color":{"field":"s","type":"nominal","legend":{"title":null,"orient":"none","legendX":290,"legendY":75,"encode":{"labels":{"update":{"fill":{"signal":"['#000000','#ff0000','#00ee00','#0000ff','#00ffff','#f5f500','#ff00ff'][toNumber(datum.label)-1]"}}}}}}}},{"data":{"values":[{}]},"mark":{"type":"text","text":"Average PWS","align":"left","baseline":"alphabetic","fontSize":15},"encoding":{"x":{"datum":0.127,"type":"quantitative","axis":{"orient":"top","values":[0.1,0.2,0.3,0.4,0.5,0.6,0.7,0.8,0.9,1,2,3,4,5,6,7,8,9,10,20,30,40,50],"labels":false,"title":null}},"y":{"datum":-5.84,"type":"quantitative","axis":{"orient":"right","values":[-11,-10,-9,-8,-7,-6,-5],"labels":false,"title":null}}}},{"data":{"values":[{}]},"mark":{"type":"text","text":"HRS-L","align":"right","baseline":"alphabetic","fontSize":40,"font":"DejaVu Sans Condensed, Liberation Sans, sans-serif"},"encoding":{"x":{"datum":37.6,"type":"quantitative","axis":null},"y":{"datum":-6.5,"type":"quantitative","axis":null}}}],"resolve":{"axis":{"x":"independent","y":"independent"}}},
{"transform":[{"filter":"datum.p=='IYG-S'"}],"layer":[{"transform":[{"fold":["1","2","3","4","5","6","7"],"as":["s","v"]}],"mark":{"type":"line","clip":true,"strokeWidth":1.7},"encoding":{"x":{"field":"f","type":"quantitative","scale":{"type":"log","domain":[0.1,50],"nice":false},"axis":{"orient":"bottom","values":[0.1,0.2,0.3,0.4,0.5,0.6,0.7,0.8,0.9,1,2,3,4,5,6,7,8,9,10,20,30,40,50],"labelExpr":"datum.value==0.1?'0.1':datum.value==1?'1.0':datum.value==10?'10.0':datum.value==50?'50.0':''","labelAlign":{"condition":{"test":"datum.value==0.1","value":"left"},"value":"center"},"title":"Frequency(Hz)"}},"y":{"field":"v","type":"quantitative","scale":{"domain":[-11,-5],"nice":false,"zero":false},"axis":{"orient":"left","values":[-11,-10,-9,-8,-7,-6,-5],"labelExpr":"'10'+['⁻¹¹','⁻¹⁰','⁻⁹','⁻⁸','⁻⁷','⁻⁶','⁻⁵'][datum.value+11]","title":"Power Spectra(cm/s*s)"}},"color":{"field":"s","type":"nominal","legend":{"title":null,"orient":"none","legendX":290,"legendY":75,"encode":{"labels":{"update":{"fill":{"signal":"['#000000','#ff0000','#00ee00','#0000ff','#00ffff','#f5f500','#ff00ff'][toNumber(datum.label)-1]"}}}}}}}},{"data":{"values":[{}]},"mark":{"type":"text","text":"Average PWS","align":"left","baseline":"alphabetic","fontSize":15},"encoding":{"x":{"datum":0.127,"type":"quantitative","axis":{"orient":"top","values":[0.1,0.2,0.3,0.4,0.5,0.6,0.7,0.8,0.9,1,2,3,4,5,6,7,8,9,10,20,30,40,50],"labels":false,"title":null}},"y":{"datum":-5.84,"type":"quantitative","axis":{"orient":"right","values":[-11,-10,-9,-8,-7,-6,-5],"labels":false,"title":null}}}},{"data":{"values":[{}]},"mark":{"type":"text","text":"IYG-S","align":"right","baseline":"alphabetic","fontSize":40,"font":"DejaVu Sans Condensed, Liberation Sans, sans-serif"},"encoding":{"x":{"datum":37.6,"type":"quantitative","axis":null},"y":{"datum":-6.5,"type":"quantitative","axis":null}}}],"resolve":{"axis":{"x":"independent","y":"independent"}}},
{"transform":[{"filter":"datum.p=='IYG-M'"}],"layer":[{"transform":[{"fold":["1","2","3","4","5","6","7"],"as":["s","v"]}],"mark":{"type":"line","clip":true,"strokeWidth":1.7},"encoding":{"x":{"field":"f","type":"quantitative","scale":{"type":"log","domain":[0.1,50],"nice":false},"axis":{"orient":"bottom","values":[0.1,0.2,0.3,0.4,0.5,0.6,0.7,0.8,0.9,1,2,3,4,5,6,7,8,9,10,20,30,40,50],"labelExpr":"datum.value==0.1?'0.1':datum.value==1?'1.0':datum.value==10?'10.0':datum.value==50?'50.0':''","labelAlign":{"condition":{"test":"datum.value==0.1","value":"left"},"value":"center"},"title":"Frequency(Hz)"}},"y":{"field":"v","type":"quantitative","scale":{"domain":[-11,-5],"nice":false,"zero":false},"axis":{"orient":"left","values":[-11,-10,-9,-8,-7,-6,-5],"labelExpr":"'10'+['⁻¹¹','⁻¹⁰','⁻⁹','⁻⁸','⁻⁷','⁻⁶','⁻⁵'][datum.value+11]","title":"Power Spectra(cm/s*s)"}},"color":{"field":"s","type":"nominal","legend":{"title":null,"orient":"none","legendX":290,"legendY":75,"encode":{"labels":{"update":{"fill":{"signal":"['#000000','#ff0000','#00ee00','#0000ff','#00ffff','#f5f500','#ff00ff'][toNumber(datum.label)-1]"}}}}}}}},{"data":{"values":[{}]},"mark":{"type":"text","text":"Average PWS","align":"left","baseline":"alphabetic","fontSize":15},"encoding":{"x":{"datum":0.127,"type":"quantitative","axis":{"orient":"top","values":[0.1,0.2,0.3,0.4,0.5,0.6,0.7,0.8,0.9,1,2,3,4,5,6,7,8,9,10,20,30,40,50],"labels":false,"title":null}},"y":{"datum":-5.84,"type":"quantitative","axis":{"orient":"right","values":[-11,-10,-9,-8,-7,-6,-5],"labels":false,"title":null}}}},{"data":{"values":[{}]},"mark":{"type":"text","text":"IYG-M","align":"right","baseline":"alphabetic","fontSize":40,"font":"DejaVu Sans Condensed, Liberation Sans, sans-serif"},"encoding":{"x":{"datum":37.6,"type":"quantitative","axis":null},"y":{"datum":-6.5,"type":"quantitative","axis":null}}}],"resolve":{"axis":{"x":"independent","y":"independent"}}},
{"transform":[{"filter":"datum.p=='IYG-L'"}],"layer":[{"transform":[{"fold":["1","2","3","4","5","6","7"],"as":["s","v"]}],"mark":{"type":"line","clip":true,"strokeWidth":1.7},"encoding":{"x":{"field":"f","type":"quantitative","scale":{"type":"log","domain":[0.1,50],"nice":false},"axis":{"orient":"bottom","values":[0.1,0.2,0.3,0.4,0.5,0.6,0.7,0.8,0.9,1,2,3,4,5,6,7,8,9,10,20,30,40,50],"labelExpr":"datum.value==0.1?'0.1':datum.value==1?'1.0':datum.value==10?'10.0':datum.value==50?'50.0':''","labelAlign":{"condition":{"test":"datum.value==0.1","value":"left"},"value":"center"},"title":"Frequency(Hz)"}},"y":{"field":"v","type":"quantitative","scale":{"domain":[-11,-5],"nice":false,"zero":false},"axis":{"orient":"left","values":[-11,-10,-9,-8,-7,-6,-5],"labelExpr":"'10'+['⁻¹¹','⁻¹⁰','⁻⁹','⁻⁸','⁻⁷','⁻⁶','⁻⁵'][datum.value+11]","title":"Power Spectra(cm/s*s)"}},"color":{"field":"s","type":"nominal","legend":{"title":null,"orient":"none","legendX":290,"legendY":75,"encode":{"labels":{"update":{"fill":{"signal":"['#000000','#ff0000','#00ee00','#0000ff','#00ffff','#f5f500','#ff00ff'][toNumber(datum.label)-1]"}}}}}}}},{"data":{"values":[{}]},"mark":{"type":"text","text":"Average PWS","align":"left","baseline":"alphabetic","fontSize":15},"encoding":{"x":{"datum":0.127,"type":"quantitative","axis":{"orient":"top","values":[0.1,0.2,0.3,0.4,0.5,0.6,0.7,0.8,0.9,1,2,3,4,5,6,7,8,9,10,20,30,40,50],"labels":false,"title":null}},"y":{"datum":-5.84,"type":"quantitative","axis":{"orient":"right","values":[-11,-10,-9,-8,-7,-6,-5],"labels":false,"title":null}}}},{"data":{"values":[{}]},"mark":{"type":"text","text":"IYG-L","align":"right","baseline":"alphabetic","fontSize":40,"font":"DejaVu Sans Condensed, Liberation Sans, sans-serif"},"encoding":{"x":{"datum":37.6,"type":"quantitative","axis":null},"y":{"datum":-6.5,"type":"quantitative","axis":null}}}],"resolve":{"axis":{"x":"independent","y":"independent"}}}
],
"resolve":{"scale":{"color":"independent"}},
"config":{
"font":"Liberation Sans",
"view":{"continuousWidth":260,"continuousHeight":200,"stroke":"#000","strokeWidth":1},
"range":{"category":["#000000","#ff0000","#00ee00","#0000ff","#00ffff","#f5f500","#ff00ff"]},
"axis":{"grid":false,"domainColor":"#000","tickColor":"#000","labelColor":"#000","titleColor":"#000","tickSize":-4,"labelFont":"Liberation Sans","titleFont":"Liberation Sans","titleFontWeight":"normal","labelOverlap":false,"labelFlush":false},
"axisBottom":{"labelFontSize":15,"labelPadding":3,"titleFontSize":20,"titlePadding":1},
"axisLeft":{"labelFontSize":11,"labelPadding":7,"titleFontSize":19,"titlePadding":3},
"legend":{"symbolType":"M-2.5,0H2.5","symbolSize":100,"symbolStrokeWidth":2,"labelFontSize":12,"labelOffset":17,"rowPadding":5,"padding":0},
"text":{"color":"#000"}
}
}
